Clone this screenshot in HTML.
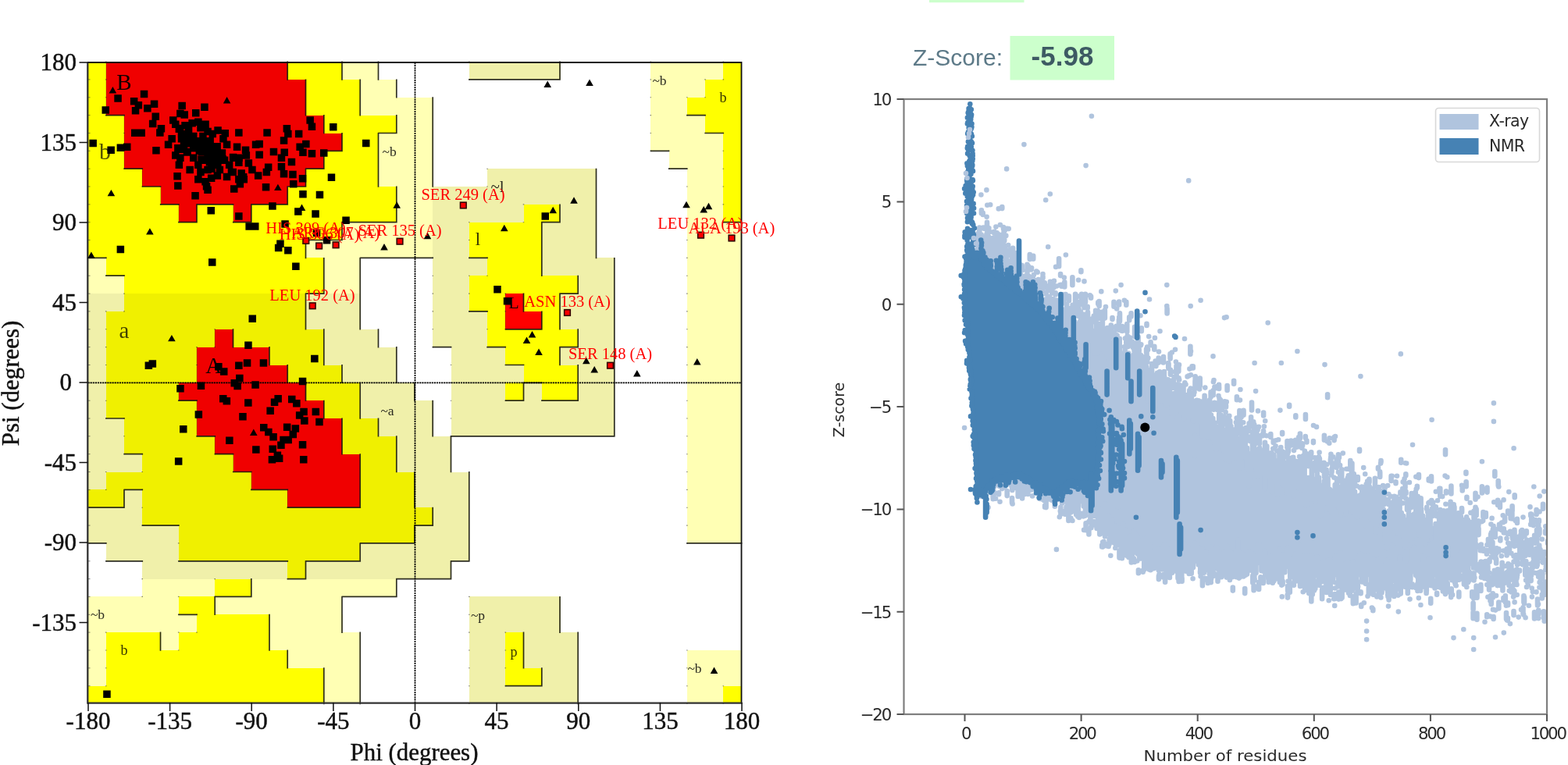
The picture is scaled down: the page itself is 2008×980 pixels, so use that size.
<!DOCTYPE html>
<html lang="en"><head><meta charset="utf-8"><title>Ramachandran plot and Z-Score</title>
<style>
html,body{margin:0;padding:0;background:#fff;}
body{width:2008px;height:980px;overflow:hidden;position:relative;font-family:"Liberation Sans",sans-serif;}
svg{position:absolute;left:0;top:0;display:block;filter:blur(0.55px);}
</style></head><body>
<svg width="2008" height="980" viewBox="0 0 2008 980">
<g id="rama">
<clipPath id="rc"><rect x="112.5" y="79.1" width="837" height="821.9"/></clipPath>
<g shape-rendering="crispEdges" clip-path="url(#rc)">
<rect x="112.5" y="79.1" width="23.8" height="23.3" fill="#ffff00"/>
<rect x="135.8" y="79.1" width="233" height="23.3" fill="#f00000"/>
<rect x="368.2" y="79.1" width="70.2" height="23.3" fill="#ffff00"/>
<rect x="438" y="79.1" width="47" height="23.3" fill="#ffffb4"/>
<rect x="600.8" y="79.1" width="116.8" height="23.3" fill="#f0f0aa"/>
<rect x="833.2" y="79.1" width="93.5" height="23.3" fill="#ffffb4"/>
<rect x="926.2" y="79.1" width="23.8" height="23.3" fill="#ffff00"/>
<rect x="112.5" y="101.9" width="23.8" height="23.3" fill="#ffff00"/>
<rect x="135.8" y="101.9" width="256.2" height="23.3" fill="#f00000"/>
<rect x="391.5" y="101.9" width="70.2" height="23.3" fill="#ffff00"/>
<rect x="461.2" y="101.9" width="47" height="23.3" fill="#ffffb4"/>
<rect x="833.2" y="101.9" width="70.2" height="23.3" fill="#ffffb4"/>
<rect x="903" y="101.9" width="47" height="23.3" fill="#ffff00"/>
<rect x="112.5" y="124.8" width="23.8" height="23.3" fill="#ffff00"/>
<rect x="135.8" y="124.8" width="256.2" height="23.3" fill="#f00000"/>
<rect x="391.5" y="124.8" width="70.2" height="23.3" fill="#ffff00"/>
<rect x="461.2" y="124.8" width="93.5" height="23.3" fill="#ffffb4"/>
<rect x="833.2" y="124.8" width="47" height="23.3" fill="#ffffb4"/>
<rect x="879.8" y="124.8" width="70.2" height="23.3" fill="#ffff00"/>
<rect x="112.5" y="147.6" width="47" height="23.3" fill="#ffff00"/>
<rect x="159" y="147.6" width="256.2" height="23.3" fill="#f00000"/>
<rect x="414.8" y="147.6" width="93.5" height="23.3" fill="#ffff00"/>
<rect x="507.8" y="147.6" width="47" height="23.3" fill="#ffffb4"/>
<rect x="833.2" y="147.6" width="70.2" height="23.3" fill="#ffffb4"/>
<rect x="903" y="147.6" width="47" height="23.3" fill="#ffff00"/>
<rect x="112.5" y="170.5" width="47" height="23.3" fill="#ffff00"/>
<rect x="159" y="170.5" width="279.5" height="23.3" fill="#f00000"/>
<rect x="438" y="170.5" width="47" height="23.3" fill="#ffff00"/>
<rect x="484.5" y="170.5" width="70.2" height="23.3" fill="#ffffb4"/>
<rect x="833.2" y="170.5" width="93.5" height="23.3" fill="#ffffb4"/>
<rect x="926.2" y="170.5" width="23.8" height="23.3" fill="#ffff00"/>
<rect x="112.5" y="193.3" width="47" height="23.3" fill="#ffff00"/>
<rect x="159" y="193.3" width="256.2" height="23.3" fill="#f00000"/>
<rect x="414.8" y="193.3" width="70.2" height="23.3" fill="#ffff00"/>
<rect x="484.5" y="193.3" width="70.2" height="23.3" fill="#ffffb4"/>
<rect x="856.5" y="193.3" width="70.2" height="23.3" fill="#ffffb4"/>
<rect x="926.2" y="193.3" width="23.8" height="23.3" fill="#ffff00"/>
<rect x="112.5" y="216.2" width="70.2" height="23.3" fill="#ffff00"/>
<rect x="182.2" y="216.2" width="209.8" height="23.3" fill="#f00000"/>
<rect x="391.5" y="216.2" width="93.5" height="23.3" fill="#ffff00"/>
<rect x="484.5" y="216.2" width="70.2" height="23.3" fill="#ffffb4"/>
<rect x="624" y="216.2" width="140" height="23.3" fill="#f0f0aa"/>
<rect x="879.8" y="216.2" width="47" height="23.3" fill="#ffffb4"/>
<rect x="926.2" y="216.2" width="23.8" height="23.3" fill="#ffff00"/>
<rect x="112.5" y="239" width="93.5" height="23.3" fill="#ffff00"/>
<rect x="205.5" y="239" width="163.2" height="23.3" fill="#f00000"/>
<rect x="368.2" y="239" width="140" height="23.3" fill="#ffff00"/>
<rect x="507.8" y="239" width="47" height="23.3" fill="#ffffb4"/>
<rect x="554.2" y="239" width="209.8" height="23.3" fill="#f0f0aa"/>
<rect x="879.8" y="239" width="47" height="23.3" fill="#ffffb4"/>
<rect x="926.2" y="239" width="23.8" height="23.3" fill="#ffff00"/>
<rect x="112.5" y="261.9" width="116.8" height="23.3" fill="#ffff00"/>
<rect x="228.8" y="261.9" width="23.8" height="23.3" fill="#f00000"/>
<rect x="252" y="261.9" width="47" height="23.3" fill="#ffff00"/>
<rect x="298.5" y="261.9" width="23.8" height="23.3" fill="#f00000"/>
<rect x="321.8" y="261.9" width="186.5" height="23.3" fill="#ffff00"/>
<rect x="507.8" y="261.9" width="47" height="23.3" fill="#ffffb4"/>
<rect x="554.2" y="261.9" width="116.8" height="23.3" fill="#f0f0aa"/>
<rect x="670.5" y="261.9" width="47" height="23.3" fill="#ffff00"/>
<rect x="717" y="261.9" width="47" height="23.3" fill="#f0f0aa"/>
<rect x="879.8" y="261.9" width="47" height="23.3" fill="#ffffb4"/>
<rect x="926.2" y="261.9" width="23.8" height="23.3" fill="#ffff00"/>
<rect x="112.5" y="284.7" width="326" height="23.3" fill="#ffff00"/>
<rect x="438" y="284.7" width="116.8" height="23.3" fill="#ffffb4"/>
<rect x="554.2" y="284.7" width="47" height="23.3" fill="#f0f0aa"/>
<rect x="600.8" y="284.7" width="93.5" height="23.3" fill="#ffff00"/>
<rect x="693.8" y="284.7" width="70.2" height="23.3" fill="#f0f0aa"/>
<rect x="879.8" y="284.7" width="70.2" height="23.3" fill="#ffffb4"/>
<rect x="112.5" y="307.5" width="279.5" height="23.3" fill="#ffff00"/>
<rect x="391.5" y="307.5" width="163.2" height="23.3" fill="#ffffb4"/>
<rect x="554.2" y="307.5" width="47" height="23.3" fill="#f0f0aa"/>
<rect x="600.8" y="307.5" width="93.5" height="23.3" fill="#ffff00"/>
<rect x="693.8" y="307.5" width="70.2" height="23.3" fill="#f0f0aa"/>
<rect x="879.8" y="307.5" width="70.2" height="23.3" fill="#ffffb4"/>
<rect x="112.5" y="330.4" width="23.8" height="23.3" fill="#ffffb4"/>
<rect x="135.8" y="330.4" width="279.5" height="23.3" fill="#ffff00"/>
<rect x="414.8" y="330.4" width="47" height="23.3" fill="#ffffb4"/>
<rect x="554.2" y="330.4" width="70.2" height="23.3" fill="#f0f0aa"/>
<rect x="624" y="330.4" width="70.2" height="23.3" fill="#ffff00"/>
<rect x="693.8" y="330.4" width="93.5" height="23.3" fill="#f0f0aa"/>
<rect x="879.8" y="330.4" width="70.2" height="23.3" fill="#ffffb4"/>
<rect x="112.5" y="353.2" width="47" height="23.3" fill="#ffffb4"/>
<rect x="159" y="353.2" width="256.2" height="23.3" fill="#ffff00"/>
<rect x="414.8" y="353.2" width="47" height="23.3" fill="#ffffb4"/>
<rect x="554.2" y="353.2" width="47" height="23.3" fill="#f0f0aa"/>
<rect x="600.8" y="353.2" width="140" height="23.3" fill="#ffff00"/>
<rect x="740.2" y="353.2" width="47" height="23.3" fill="#f0f0aa"/>
<rect x="879.8" y="353.2" width="70.2" height="23.3" fill="#ffffb4"/>
<rect x="112.5" y="376.1" width="47" height="23.3" fill="#f0f0aa"/>
<rect x="159" y="376.1" width="233" height="23.3" fill="#f0f000"/>
<rect x="391.5" y="376.1" width="70.2" height="23.3" fill="#f0f0aa"/>
<rect x="554.2" y="376.1" width="47" height="23.3" fill="#f0f0aa"/>
<rect x="600.8" y="376.1" width="47" height="23.3" fill="#ffff00"/>
<rect x="647.2" y="376.1" width="23.8" height="23.3" fill="#ff0000"/>
<rect x="670.5" y="376.1" width="47" height="23.3" fill="#ffff00"/>
<rect x="717" y="376.1" width="70.2" height="23.3" fill="#f0f0aa"/>
<rect x="879.8" y="376.1" width="70.2" height="23.3" fill="#ffffb4"/>
<rect x="112.5" y="398.9" width="23.8" height="23.3" fill="#f0f0aa"/>
<rect x="135.8" y="398.9" width="256.2" height="23.3" fill="#f0f000"/>
<rect x="391.5" y="398.9" width="70.2" height="23.3" fill="#f0f0aa"/>
<rect x="554.2" y="398.9" width="70.2" height="23.3" fill="#f0f0aa"/>
<rect x="624" y="398.9" width="23.8" height="23.3" fill="#ffff00"/>
<rect x="647.2" y="398.9" width="47" height="23.3" fill="#ff0000"/>
<rect x="693.8" y="398.9" width="23.8" height="23.3" fill="#ffff00"/>
<rect x="717" y="398.9" width="70.2" height="23.3" fill="#f0f0aa"/>
<rect x="879.8" y="398.9" width="70.2" height="23.3" fill="#ffffb4"/>
<rect x="112.5" y="421.8" width="23.8" height="23.3" fill="#f0f0aa"/>
<rect x="135.8" y="421.8" width="140" height="23.3" fill="#f0f000"/>
<rect x="275.2" y="421.8" width="23.8" height="23.3" fill="#f00000"/>
<rect x="298.5" y="421.8" width="116.8" height="23.3" fill="#f0f000"/>
<rect x="414.8" y="421.8" width="70.2" height="23.3" fill="#f0f0aa"/>
<rect x="554.2" y="421.8" width="70.2" height="23.3" fill="#f0f0aa"/>
<rect x="624" y="421.8" width="116.8" height="23.3" fill="#ffff00"/>
<rect x="740.2" y="421.8" width="47" height="23.3" fill="#f0f0aa"/>
<rect x="879.8" y="421.8" width="70.2" height="23.3" fill="#ffffb4"/>
<rect x="112.5" y="444.6" width="23.8" height="23.3" fill="#f0f0aa"/>
<rect x="135.8" y="444.6" width="116.8" height="23.3" fill="#f0f000"/>
<rect x="252" y="444.6" width="93.5" height="23.3" fill="#f00000"/>
<rect x="345" y="444.6" width="70.2" height="23.3" fill="#f0f000"/>
<rect x="414.8" y="444.6" width="93.5" height="23.3" fill="#f0f0aa"/>
<rect x="577.5" y="444.6" width="70.2" height="23.3" fill="#f0f0aa"/>
<rect x="647.2" y="444.6" width="70.2" height="23.3" fill="#ffff00"/>
<rect x="717" y="444.6" width="70.2" height="23.3" fill="#f0f0aa"/>
<rect x="879.8" y="444.6" width="70.2" height="23.3" fill="#ffffb4"/>
<rect x="112.5" y="467.5" width="23.8" height="23.3" fill="#f0f0aa"/>
<rect x="135.8" y="467.5" width="116.8" height="23.3" fill="#f0f000"/>
<rect x="252" y="467.5" width="116.8" height="23.3" fill="#f00000"/>
<rect x="368.2" y="467.5" width="70.2" height="23.3" fill="#f0f000"/>
<rect x="438" y="467.5" width="70.2" height="23.3" fill="#f0f0aa"/>
<rect x="577.5" y="467.5" width="93.5" height="23.3" fill="#f0f0aa"/>
<rect x="670.5" y="467.5" width="70.2" height="23.3" fill="#ffff00"/>
<rect x="740.2" y="467.5" width="47" height="23.3" fill="#f0f0aa"/>
<rect x="879.8" y="467.5" width="70.2" height="23.3" fill="#ffffb4"/>
<rect x="112.5" y="490.3" width="23.8" height="23.3" fill="#f0f0aa"/>
<rect x="135.8" y="490.3" width="93.5" height="23.3" fill="#f0f000"/>
<rect x="228.8" y="490.3" width="163.2" height="23.3" fill="#f00000"/>
<rect x="391.5" y="490.3" width="70.2" height="23.3" fill="#f0f000"/>
<rect x="461.2" y="490.3" width="70.2" height="23.3" fill="#f0f0aa"/>
<rect x="577.5" y="490.3" width="70.2" height="23.3" fill="#f0f0aa"/>
<rect x="647.2" y="490.3" width="23.8" height="23.3" fill="#ffff00"/>
<rect x="670.5" y="490.3" width="23.8" height="23.3" fill="#f0f0aa"/>
<rect x="693.8" y="490.3" width="47" height="23.3" fill="#ffff00"/>
<rect x="740.2" y="490.3" width="47" height="23.3" fill="#f0f0aa"/>
<rect x="879.8" y="490.3" width="70.2" height="23.3" fill="#ffffb4"/>
<rect x="112.5" y="513.2" width="23.8" height="23.3" fill="#f0f0aa"/>
<rect x="135.8" y="513.2" width="116.8" height="23.3" fill="#f0f000"/>
<rect x="252" y="513.2" width="163.2" height="23.3" fill="#f00000"/>
<rect x="414.8" y="513.2" width="47" height="23.3" fill="#f0f000"/>
<rect x="461.2" y="513.2" width="93.5" height="23.3" fill="#f0f0aa"/>
<rect x="577.5" y="513.2" width="209.8" height="23.3" fill="#f0f0aa"/>
<rect x="879.8" y="513.2" width="70.2" height="23.3" fill="#ffffb4"/>
<rect x="112.5" y="536" width="47" height="23.3" fill="#f0f0aa"/>
<rect x="159" y="536" width="93.5" height="23.3" fill="#f0f000"/>
<rect x="252" y="536" width="186.5" height="23.3" fill="#f00000"/>
<rect x="438" y="536" width="47" height="23.3" fill="#f0f000"/>
<rect x="484.5" y="536" width="70.2" height="23.3" fill="#f0f0aa"/>
<rect x="577.5" y="536" width="209.8" height="23.3" fill="#f0f0aa"/>
<rect x="879.8" y="536" width="70.2" height="23.3" fill="#ffffb4"/>
<rect x="112.5" y="558.8" width="47" height="23.3" fill="#f0f0aa"/>
<rect x="159" y="558.8" width="116.8" height="23.3" fill="#f0f000"/>
<rect x="275.2" y="558.8" width="163.2" height="23.3" fill="#f00000"/>
<rect x="438" y="558.8" width="70.2" height="23.3" fill="#f0f000"/>
<rect x="507.8" y="558.8" width="70.2" height="23.3" fill="#f0f0aa"/>
<rect x="879.8" y="558.8" width="70.2" height="23.3" fill="#ffffb4"/>
<rect x="112.5" y="581.7" width="70.2" height="23.3" fill="#f0f0aa"/>
<rect x="182.2" y="581.7" width="116.8" height="23.3" fill="#f0f000"/>
<rect x="298.5" y="581.7" width="163.2" height="23.3" fill="#f00000"/>
<rect x="461.2" y="581.7" width="47" height="23.3" fill="#f0f000"/>
<rect x="507.8" y="581.7" width="70.2" height="23.3" fill="#f0f0aa"/>
<rect x="879.8" y="581.7" width="70.2" height="23.3" fill="#ffffb4"/>
<rect x="112.5" y="604.5" width="23.8" height="23.3" fill="#f0f0aa"/>
<rect x="135.8" y="604.5" width="186.5" height="23.3" fill="#f0f000"/>
<rect x="321.8" y="604.5" width="140" height="23.3" fill="#f00000"/>
<rect x="461.2" y="604.5" width="70.2" height="23.3" fill="#f0f000"/>
<rect x="531" y="604.5" width="70.2" height="23.3" fill="#f0f0aa"/>
<rect x="879.8" y="604.5" width="70.2" height="23.3" fill="#ffffb4"/>
<rect x="112.5" y="627.4" width="47" height="23.3" fill="#f0f000"/>
<rect x="159" y="627.4" width="23.8" height="23.3" fill="#f0f0aa"/>
<rect x="182.2" y="627.4" width="186.5" height="23.3" fill="#f0f000"/>
<rect x="368.2" y="627.4" width="93.5" height="23.3" fill="#f00000"/>
<rect x="461.2" y="627.4" width="70.2" height="23.3" fill="#f0f000"/>
<rect x="531" y="627.4" width="70.2" height="23.3" fill="#f0f0aa"/>
<rect x="879.8" y="627.4" width="70.2" height="23.3" fill="#ffffb4"/>
<rect x="112.5" y="650.2" width="70.2" height="23.3" fill="#f0f0aa"/>
<rect x="182.2" y="650.2" width="372.5" height="23.3" fill="#f0f000"/>
<rect x="554.2" y="650.2" width="47" height="23.3" fill="#f0f0aa"/>
<rect x="879.8" y="650.2" width="70.2" height="23.3" fill="#ffffb4"/>
<rect x="112.5" y="673.1" width="116.8" height="23.3" fill="#f0f0aa"/>
<rect x="228.8" y="673.1" width="302.8" height="23.3" fill="#f0f000"/>
<rect x="531" y="673.1" width="70.2" height="23.3" fill="#f0f0aa"/>
<rect x="879.8" y="673.1" width="70.2" height="23.3" fill="#ffffb4"/>
<rect x="135.8" y="695.9" width="93.5" height="23.3" fill="#f0f0aa"/>
<rect x="228.8" y="695.9" width="233" height="23.3" fill="#f0f000"/>
<rect x="461.2" y="695.9" width="140" height="23.3" fill="#f0f0aa"/>
<rect x="182.2" y="718.8" width="186.5" height="23.3" fill="#f0f0aa"/>
<rect x="368.2" y="718.8" width="23.8" height="23.3" fill="#f0f000"/>
<rect x="391.5" y="718.8" width="186.5" height="23.3" fill="#f0f0aa"/>
<rect x="182.2" y="741.6" width="93.5" height="23.3" fill="#ffffb4"/>
<rect x="275.2" y="741.6" width="47" height="23.3" fill="#ffff00"/>
<rect x="321.8" y="741.6" width="186.5" height="23.3" fill="#ffffb4"/>
<rect x="112.5" y="764.4" width="116.8" height="23.3" fill="#ffffb4"/>
<rect x="228.8" y="764.4" width="47" height="23.3" fill="#ffff00"/>
<rect x="275.2" y="764.4" width="163.2" height="23.3" fill="#ffffb4"/>
<rect x="600.8" y="764.4" width="116.8" height="23.3" fill="#f0f0aa"/>
<rect x="112.5" y="787.3" width="140" height="23.3" fill="#ffffb4"/>
<rect x="252" y="787.3" width="93.5" height="23.3" fill="#ffff00"/>
<rect x="345" y="787.3" width="93.5" height="23.3" fill="#ffffb4"/>
<rect x="600.8" y="787.3" width="116.8" height="23.3" fill="#f0f0aa"/>
<rect x="112.5" y="810.1" width="23.8" height="23.3" fill="#ffffb4"/>
<rect x="135.8" y="810.1" width="70.2" height="23.3" fill="#ffff00"/>
<rect x="205.5" y="810.1" width="23.8" height="23.3" fill="#ffffb4"/>
<rect x="228.8" y="810.1" width="116.8" height="23.3" fill="#ffff00"/>
<rect x="345" y="810.1" width="116.8" height="23.3" fill="#ffffb4"/>
<rect x="600.8" y="810.1" width="47" height="23.3" fill="#f0f0aa"/>
<rect x="647.2" y="810.1" width="23.8" height="23.3" fill="#ffff00"/>
<rect x="670.5" y="810.1" width="70.2" height="23.3" fill="#f0f0aa"/>
<rect x="112.5" y="833" width="23.8" height="23.3" fill="#ffffb4"/>
<rect x="135.8" y="833" width="233" height="23.3" fill="#ffff00"/>
<rect x="368.2" y="833" width="93.5" height="23.3" fill="#ffffb4"/>
<rect x="600.8" y="833" width="47" height="23.3" fill="#f0f0aa"/>
<rect x="647.2" y="833" width="23.8" height="23.3" fill="#ffff00"/>
<rect x="670.5" y="833" width="70.2" height="23.3" fill="#f0f0aa"/>
<rect x="879.8" y="833" width="70.2" height="23.3" fill="#ffffb4"/>
<rect x="112.5" y="855.8" width="23.8" height="23.3" fill="#ffffb4"/>
<rect x="135.8" y="855.8" width="279.5" height="23.3" fill="#ffff00"/>
<rect x="414.8" y="855.8" width="47" height="23.3" fill="#ffffb4"/>
<rect x="600.8" y="855.8" width="47" height="23.3" fill="#f0f0aa"/>
<rect x="647.2" y="855.8" width="47" height="23.3" fill="#ffff00"/>
<rect x="693.8" y="855.8" width="47" height="23.3" fill="#f0f0aa"/>
<rect x="879.8" y="855.8" width="70.2" height="23.3" fill="#ffffb4"/>
<rect x="112.5" y="878.7" width="302.8" height="23.3" fill="#ffff00"/>
<rect x="414.8" y="878.7" width="47" height="23.3" fill="#ffffb4"/>
<rect x="600.8" y="878.7" width="140" height="23.3" fill="#f0f0aa"/>
<rect x="879.8" y="878.7" width="47" height="23.3" fill="#ffffb4"/>
<rect x="926.2" y="878.7" width="23.8" height="23.3" fill="#ffff00"/>
</g>
<path d="M368.2 78.6V102.7M438 78.6V102.7M484.5 78.6V102.7M600.2 101.9H624.8M623.5 101.9H648M646.8 101.9H671.3M670 101.9H694.5M717 78.6V102.7M693.2 101.9H717.8M391.5 101.4V125.6M461.2 101.4V125.6M507.8 101.4V125.6M135.2 147.6H159.8M391.5 124.3V148.4M461.2 124.3V148.4M554.2 124.3V148.4M879.2 147.6H903.8M414.8 147.1V171.3M507.8 147.1V171.3M484 170.5H508.6M554.2 147.1V171.3M902.5 170.5H927M438 170V194.1M414.2 193.3H438.8M484.5 170V194.1M554.2 170V194.1M832.8 193.3H857.3M158.5 216.2H183.1M414.8 192.8V217M391 216.2H415.6M484.5 192.8V217M554.2 192.8V217M856 216.2H880.5M181.8 239H206.3M391.5 215.7V239.8M367.8 239H392.3M484.5 215.7V239.8M554.2 215.7V239.8M763.5 215.7V239.8M205 261.9H229.6M251.5 261.9H276.1M274.8 261.9H299.3M321.2 261.9H345.8M368.2 238.5V262.7M344.5 261.9H369.1M507.8 238.5V262.7M763.5 238.5V262.7M252 261.4V285.5M228.2 284.7H252.8M321.8 261.4V285.5M298 284.7H322.6M437.5 284.7H462.1M460.8 284.7H485.3M507.8 261.4V285.5M484 284.7H508.6M717 261.4V285.5M693.2 284.7H717.8M763.5 261.4V285.5M925.8 284.7H950.3M391 307.5H415.6M438 284.2V308.3M414.2 307.5H438.8M693.8 284.2V308.3M763.5 284.2V308.3M112 330.4H136.6M391.5 307V331.2M460.8 330.4H485.3M484 330.4H508.6M507.2 330.4H531.8M530.5 330.4H555M600.2 330.4H624.8M693.8 307V331.2M763.5 307V331.2M135.2 353.2H159.8M414.8 329.9V354M461.2 329.9V354M693.8 329.9V354M786.8 329.9V354M414.8 352.7V376.9M391 376.1H415.6M461.2 352.7V376.9M740.2 352.7V376.9M716.5 376.1H741M786.8 352.7V376.9M391.5 375.6V399.7M461.2 375.6V399.7M600.2 398.9H624.8M670.5 375.6V399.7M717 375.6V399.7M786.8 375.6V399.7M391.5 398.4V422.6M461.2 398.4V422.6M646.8 421.8H671.3M693.8 398.4V422.6M670 421.8H694.5M717 398.4V422.6M786.8 398.4V422.6M298.5 421.3V445.4M414.8 421.3V445.4M484.5 421.3V445.4M553.8 444.6H578.3M623.5 444.6H648M740.2 421.3V445.4M716.5 444.6H741M786.8 421.3V445.4M345 444.1V468.3M414.8 444.1V468.3M507.8 444.1V468.3M646.8 467.5H671.3M717 444.1V468.3M786.8 444.1V468.3M368.2 467V491.1M438 467V491.1M507.8 467V491.1M670 490.3H694.5M740.2 467V491.1M786.8 467V491.1M228.2 513.2H252.8M391.5 489.8V514M461.2 489.8V514M531 489.8V514M670.5 489.8V514M646.8 513.2H671.3M693.2 513.2H717.8M740.2 489.8V514M716.5 513.2H741M786.8 489.8V514M135.2 536H159.8M414.8 512.7V536.8M461.2 512.7V536.8M554.2 512.7V536.8M786.8 512.7V536.8M251.5 558.8H276.1M438 535.5V559.6M484.5 535.5V559.6M554.2 535.5V559.6M577 558.8H601.5M600.2 558.8H624.8M623.5 558.8H648M646.8 558.8H671.3M670 558.8H694.5M693.2 558.8H717.8M716.5 558.8H741M739.8 558.8H764.3M786.8 535.5V559.6M763 558.8H787.5M158.5 581.7H183.1M274.8 581.7H299.3M438 558.3V582.5M507.8 558.3V582.5M577.5 558.3V582.5M298 604.5H322.6M461.2 581.2V605.3M507.8 581.2V605.3M577.5 581.2V605.3M158.5 627.4H183.1M321.2 627.4H345.8M344.5 627.4H369.1M461.2 604V628.2M531 604V628.2M600.8 604V628.2M112 650.2H136.6M159 626.9V651M135.2 650.2H159.8M367.8 650.2H392.3M391 650.2H415.6M414.2 650.2H438.8M461.2 626.9V651M437.5 650.2H462.1M531 626.9V651M600.8 626.9V651M181.8 673.1H206.3M205 673.1H229.6M554.2 649.7V673.9M530.5 673.1H555M600.8 649.7V673.9M112 695.9H136.6M460.8 695.9H485.3M484 695.9H508.6M531 672.6V696.7M507.2 695.9H531.8M600.8 672.6V696.7M879.2 695.9H903.8M902.5 695.9H927M925.8 695.9H950.3M135.2 718.8H159.8M158.5 718.8H183.1M228.2 718.8H252.8M251.5 718.8H276.1M274.8 718.8H299.3M298 718.8H322.6M321.2 718.8H345.8M344.5 718.8H369.1M391 718.8H415.6M414.2 718.8H438.8M461.2 695.4V719.6M437.5 718.8H462.1M600.8 695.4V719.6M577 718.8H601.5M391.5 718.3V742.4M367.8 741.6H392.3M507.2 741.6H531.8M530.5 741.6H555M577.5 718.3V742.4M553.8 741.6H578.3M274.8 764.4H299.3M321.8 741.1V765.2M298 764.4H322.6M437.5 764.4H462.1M460.8 764.4H485.3M507.8 741.1V765.2M484 764.4H508.6M228.2 787.3H252.8M275.2 763.9V788.1M438 763.9V788.1M717 763.9V788.1M345 786.8V810.9M438 786.8V810.9M717 786.8V810.9M205.5 809.6V833.8M345 809.6V833.8M461.2 809.6V833.8M670.5 809.6V833.8M740.2 809.6V833.8M368.2 832.5V856.6M461.2 832.5V856.6M670.5 832.5V856.6M740.2 832.5V856.6M414.8 855.3V879.5M461.2 855.3V879.5M646.8 878.7H671.3M693.8 855.3V879.5M670 878.7H694.5M740.2 855.3V879.5M414.8 878.2V902.3M461.2 878.2V902.3M740.2 878.2V902.3" stroke="#1a1a10" stroke-width="1.7" fill="none" opacity="0.9"/>
<path d="M135.8 79.1V101.9M135.8 101.9V124.8M135.8 124.8V147.6M159 147.6V170.5M159 170.5V193.3M159 193.3V216.2M182.2 216.2V239M205.5 239V261.9M228.8 261.9V284.7M298.5 261.9V284.7M647.2 376.1V398.9M647.2 398.9V421.8M275.2 421.8V444.6M252 444.6V467.5M252 467.5V490.3M228.8 490.3V513.2M252 513.2V536M252 536V558.8M275.2 558.8V581.7M298.5 581.7V604.5M321.8 604.5V627.4M368.2 627.4V650.2" stroke="#000" stroke-width="1" fill="none" opacity="0.2"/>
<path d="M134.9 79.1h1.6M134.9 101.9h1.6M600 79.1h1.6M600 101.9h1.6M832.5 79.1h1.6M832.5 101.9h1.6M925.5 79.1h1.6M925.5 101.9h1.6M134.9 101.9h1.6M134.9 124.8h1.6M832.5 101.9h1.6M832.5 124.8h1.6M902.2 101.9h1.6M902.2 124.8h1.6M134.9 124.8h1.6M134.9 147.6h1.6M832.5 124.8h1.6M832.5 147.6h1.6M879 124.8h1.6M879 147.6h1.6M158.2 147.6h1.6M158.2 170.5h1.6M832.5 147.6h1.6M832.5 170.5h1.6M902.2 147.6h1.6M902.2 170.5h1.6M158.2 170.5h1.6M158.2 193.3h1.6M832.5 170.5h1.6M832.5 193.3h1.6M925.5 170.5h1.6M925.5 193.3h1.6M158.2 193.3h1.6M158.2 216.2h1.6M855.7 193.3h1.6M855.7 216.2h1.6M925.5 193.3h1.6M925.5 216.2h1.6M181.4 216.2h1.6M181.4 239h1.6M623.2 216.2h1.6M623.2 239h1.6M879 216.2h1.6M879 239h1.6M925.5 216.2h1.6M925.5 239h1.6M204.7 239h1.6M204.7 261.9h1.6M879 239h1.6M879 261.9h1.6M925.5 239h1.6M925.5 261.9h1.6M227.9 261.9h1.6M227.9 284.7h1.6M297.7 261.9h1.6M297.7 284.7h1.6M669.7 261.9h1.6M669.7 284.7h1.6M879 261.9h1.6M879 284.7h1.6M925.5 261.9h1.6M925.5 284.7h1.6M600 284.7h1.6M600 307.5h1.6M879 284.7h1.6M879 307.5h1.6M600 307.5h1.6M600 330.4h1.6M879 307.5h1.6M879 330.4h1.6M134.9 330.4h1.6M134.9 353.2h1.6M553.5 330.4h1.6M553.5 353.2h1.6M623.2 330.4h1.6M623.2 353.2h1.6M879 330.4h1.6M879 353.2h1.6M158.2 353.2h1.6M158.2 376.1h1.6M553.5 353.2h1.6M553.5 376.1h1.6M600 353.2h1.6M600 376.1h1.6M879 353.2h1.6M879 376.1h1.6M158.2 376.1h1.6M158.2 398.9h1.6M553.5 376.1h1.6M553.5 398.9h1.6M600 376.1h1.6M600 398.9h1.6M646.5 376.1h1.6M646.5 398.9h1.6M879 376.1h1.6M879 398.9h1.6M134.9 398.9h1.6M134.9 421.8h1.6M553.5 398.9h1.6M553.5 421.8h1.6M623.2 398.9h1.6M623.2 421.8h1.6M646.5 398.9h1.6M646.5 421.8h1.6M879 398.9h1.6M879 421.8h1.6M134.9 421.8h1.6M134.9 444.6h1.6M274.4 421.8h1.6M274.4 444.6h1.6M553.5 421.8h1.6M553.5 444.6h1.6M623.2 421.8h1.6M623.2 444.6h1.6M879 421.8h1.6M879 444.6h1.6M134.9 444.6h1.6M134.9 467.5h1.6M251.2 444.6h1.6M251.2 467.5h1.6M576.7 444.6h1.6M576.7 467.5h1.6M646.5 444.6h1.6M646.5 467.5h1.6M879 444.6h1.6M879 467.5h1.6M134.9 467.5h1.6M134.9 490.3h1.6M251.2 467.5h1.6M251.2 490.3h1.6M576.7 467.5h1.6M576.7 490.3h1.6M669.7 467.5h1.6M669.7 490.3h1.6M879 467.5h1.6M879 490.3h1.6M134.9 490.3h1.6M134.9 513.2h1.6M227.9 490.3h1.6M227.9 513.2h1.6M576.7 490.3h1.6M576.7 513.2h1.6M646.5 490.3h1.6M646.5 513.2h1.6M693 490.3h1.6M693 513.2h1.6M879 490.3h1.6M879 513.2h1.6M134.9 513.2h1.6M134.9 536h1.6M251.2 513.2h1.6M251.2 536h1.6M576.7 513.2h1.6M576.7 536h1.6M879 513.2h1.6M879 536h1.6M158.2 536h1.6M158.2 558.8h1.6M251.2 536h1.6M251.2 558.8h1.6M576.7 536h1.6M576.7 558.8h1.6M879 536h1.6M879 558.8h1.6M158.2 558.8h1.6M158.2 581.7h1.6M274.4 558.8h1.6M274.4 581.7h1.6M879 558.8h1.6M879 581.7h1.6M181.4 581.7h1.6M181.4 604.5h1.6M297.7 581.7h1.6M297.7 604.5h1.6M879 581.7h1.6M879 604.5h1.6M134.9 604.5h1.6M134.9 627.4h1.6M320.9 604.5h1.6M320.9 627.4h1.6M879 604.5h1.6M879 627.4h1.6M181.4 627.4h1.6M181.4 650.2h1.6M367.4 627.4h1.6M367.4 650.2h1.6M879 627.4h1.6M879 650.2h1.6M181.4 650.2h1.6M181.4 673.1h1.6M879 650.2h1.6M879 673.1h1.6M227.9 673.1h1.6M227.9 695.9h1.6M879 673.1h1.6M879 695.9h1.6M134.9 695.9h1.6M134.9 718.8h1.6M227.9 695.9h1.6M227.9 718.8h1.6M181.4 718.8h1.6M181.4 741.6h1.6M367.4 718.8h1.6M367.4 741.6h1.6M181.4 741.6h1.6M181.4 764.4h1.6M274.4 741.6h1.6M274.4 764.4h1.6M227.9 764.4h1.6M227.9 787.3h1.6M600 764.4h1.6M600 787.3h1.6M251.2 787.3h1.6M251.2 810.1h1.6M600 787.3h1.6M600 810.1h1.6M134.9 810.1h1.6M134.9 833h1.6M227.9 810.1h1.6M227.9 833h1.6M600 810.1h1.6M600 833h1.6M646.5 810.1h1.6M646.5 833h1.6M134.9 833h1.6M134.9 855.8h1.6M600 833h1.6M600 855.8h1.6M646.5 833h1.6M646.5 855.8h1.6M879 833h1.6M879 855.8h1.6M134.9 855.8h1.6M134.9 878.7h1.6M600 855.8h1.6M600 878.7h1.6M646.5 855.8h1.6M646.5 878.7h1.6M879 855.8h1.6M879 878.7h1.6M600 878.7h1.6M600 901.5h1.6M879 878.7h1.6M879 901.5h1.6M925.5 878.7h1.6M925.5 901.5h1.6" stroke="#222" stroke-width="1.1" fill="none" opacity="0.55"/>
<path d="M531.5 80V900M112.5 490.3H949.5" stroke="#000" stroke-width="1.7" stroke-dasharray="2.2 0.9" fill="none"/>
<path d="M112 80H949.5V900.5" fill="none" stroke="#111" stroke-width="1.8"/>
<path d="M112.3 80V900.6H950.4" fill="none" stroke="#333" stroke-width="2.3"/>
<path d="M113 900v11M217.6 900v11M112.5 797.5h-11M322.2 900v11M112.5 695h-11M426.9 900v11M112.5 592.5h-11M531.5 900v11M112.5 490h-11M636.1 900v11M112.5 387.5h-11M740.8 900v11M112.5 285h-11M845.4 900v11M112.5 182.5h-11M950 900v11M112.5 80h-11M112.5 80h-11" stroke="#111" stroke-width="1.5" fill="none"/>
<path d="M112.5 101.9h3M112.5 124.8h3M112.5 147.6h3M112.5 170.5h3M112.5 193.3h3M112.5 216.2h3M112.5 239h3M112.5 261.9h3M112.5 284.7h3M112.5 307.5h3M112.5 330.4h3M112.5 353.2h3M112.5 376.1h3M112.5 398.9h3M112.5 421.8h3M112.5 444.6h3M112.5 467.5h3M112.5 490.3h3M112.5 513.2h3M112.5 536h3M112.5 558.8h3M112.5 581.7h3M112.5 604.5h3M112.5 627.4h3M112.5 650.2h3M112.5 673.1h3M112.5 695.9h3M112.5 718.8h3M112.5 741.6h3M112.5 764.4h3M112.5 787.3h3M112.5 810.1h3M112.5 833h3M112.5 855.8h3M112.5 878.7h3" stroke="#333" stroke-width="1" fill="none" opacity="0.6"/>
<g font-family="'Liberation Serif', serif" font-size="31" fill="#111" stroke="#111" stroke-width="0.45">
<text x="113" y="934" text-anchor="middle">-180</text>
<text x="217.6" y="934" text-anchor="middle">-135</text>
<text x="322.2" y="934" text-anchor="middle">-90</text>
<text x="426.9" y="934" text-anchor="middle">-45</text>
<text x="531.5" y="934" text-anchor="middle">0</text>
<text x="636.1" y="934" text-anchor="middle">45</text>
<text x="740.8" y="934" text-anchor="middle">90</text>
<text x="845.4" y="934" text-anchor="middle">135</text>
<text x="950" y="934" text-anchor="middle">180</text>
<text x="98" y="807.8" text-anchor="end">-135</text>
<text x="98" y="705.3" text-anchor="end">-90</text>
<text x="98" y="602.8" text-anchor="end">-45</text>
<text x="92" y="500.3" text-anchor="end">0</text>
<text x="98" y="397.8" text-anchor="end">45</text>
<text x="98" y="295.3" text-anchor="end">90</text>
<text x="98" y="192.8" text-anchor="end">135</text>
<text x="98" y="90.3" text-anchor="end">180</text>
<text x="530.5" y="974" text-anchor="middle" font-size="30.9">Phi (degrees)</text>
<text transform="translate(24 491) rotate(-90)" text-anchor="middle" font-size="30.9">Psi (degrees)</text>
</g>
</g>
<g id="rama-labels" font-family="'Liberation Serif', serif" text-anchor="middle">
<text x="159" y="115.2" font-size="29" fill="#100">B</text>
<text x="134.5" y="203.9" font-size="30" fill="#555500">b</text>
<text x="498.6" y="200" font-size="17.5" fill="#2a2a20">~b</text>
<text x="844.5" y="109" font-size="17.5" fill="#2a2a20">~b</text>
<text x="926" y="131.1" font-size="18" fill="#333300">b</text>
<text x="637" y="245.8" font-size="21" fill="#2a2a20">~l</text>
<text x="612" y="314.3" font-size="23" fill="#333300">l</text>
<text x="658" y="395.1" font-size="22" fill="#100">L</text>
<text x="159" y="433.2" font-size="29" fill="#444400">a</text>
<text x="273.7" y="477.7" font-size="29" fill="#100">A</text>
<text x="496" y="532" font-size="17.5" fill="#2a2a20">~a</text>
<text x="125" y="793" font-size="17.5" fill="#2a2a20">~b</text>
<text x="159" y="839.1" font-size="18" fill="#333300">b</text>
<text x="612" y="794" font-size="17.5" fill="#2a2a20">~p</text>
<text x="658" y="841.1" font-size="18" fill="#333300">p</text>
<text x="889.5" y="862" font-size="17.5" fill="#2a2a20">~b</text>
</g>
<path d="M146.3 121.3h9.5v9.5h-9.5zM130.5 136.2h9.5v9.5h-9.5zM179.8 115.8h9.5v9.5h-9.5zM166.9 125h9.5v9.5h-9.5zM172.6 130h9.5v9.5h-9.5zM168.8 136.9h9.5v9.5h-9.5zM184.1 133.9h9.5v9.5h-9.5zM192.8 128.5h9.5v9.5h-9.5zM194.5 144.6h9.5v9.5h-9.5zM190.9 153.8h9.5v9.5h-9.5zM201.7 159.9h9.5v9.5h-9.5zM200.1 165.2h9.5v9.5h-9.5zM168 165.5h9.5v9.5h-9.5zM176.4 165.5h9.5v9.5h-9.5zM114.4 178.7h9.5v9.5h-9.5zM137.4 187.4h9.5v9.5h-9.5zM149.6 184.4h9.5v9.5h-9.5zM158 183.6h9.5v9.5h-9.5zM195.2 187.9h9.5v9.5h-9.5zM228.4 130.8h9.5v9.5h-9.5zM226.1 140.7h9.5v9.5h-9.5zM231.5 142.3h9.5v9.5h-9.5zM217 149.2h9.5v9.5h-9.5zM246 140h9.5v9.5h-9.5zM257.2 132.6h9.5v9.5h-9.5zM301.1 165.2h9.5v9.5h-9.5zM298.8 183.6h9.5v9.5h-9.5zM274.3 162.2h9.5v9.5h-9.5zM283.5 166h9.5v9.5h-9.5zM281.2 172.9h9.5v9.5h-9.5zM222.3 221.1h9.5v9.5h-9.5zM223.1 233.3h9.5v9.5h-9.5zM238.4 212.7h9.5v9.5h-9.5zM249.1 224.9h9.5v9.5h-9.5zM258.3 228h9.5v9.5h-9.5zM265.9 223.4h9.5v9.5h-9.5zM210.8 180.5h9.5v9.5h-9.5zM215.4 172.9h9.5v9.5h-9.5zM220 154.5h9.5v9.5h-9.5zM224.6 160.6h9.5v9.5h-9.5zM227.7 166.8h9.5v9.5h-9.5zM232.3 156h9.5v9.5h-9.5zM236.8 162.2h9.5v9.5h-9.5zM241.4 153h9.5v9.5h-9.5zM243 169.8h9.5v9.5h-9.5zM249.1 151.5h9.5v9.5h-9.5zM252.2 159.1h9.5v9.5h-9.5zM258.3 154.5h9.5v9.5h-9.5zM261.3 163.7h9.5v9.5h-9.5zM255.2 169.8h9.5v9.5h-9.5zM249.1 175.9h9.5v9.5h-9.5zM239.9 179h9.5v9.5h-9.5zM230.7 182.1h9.5v9.5h-9.5zM223.1 185.1h9.5v9.5h-9.5zM220 194.3h9.5v9.5h-9.5zM226.1 197.4h9.5v9.5h-9.5zM224.6 206.5h9.5v9.5h-9.5zM235.3 189.7h9.5v9.5h-9.5zM243 185.1h9.5v9.5h-9.5zM250.6 188.2h9.5v9.5h-9.5zM258.3 182.1h9.5v9.5h-9.5zM264.4 175.9h9.5v9.5h-9.5zM267.5 185.1h9.5v9.5h-9.5zM261.3 194.3h9.5v9.5h-9.5zM255.2 200.4h9.5v9.5h-9.5zM249.1 206.5h9.5v9.5h-9.5zM243 197.4h9.5v9.5h-9.5zM270.5 194.3h9.5v9.5h-9.5zM273.6 200.4h9.5v9.5h-9.5zM267.5 206.5h9.5v9.5h-9.5zM261.3 212.7h9.5v9.5h-9.5zM279.7 191.2h9.5v9.5h-9.5zM282.8 200.4h9.5v9.5h-9.5zM288.9 206.5h9.5v9.5h-9.5zM276.6 212.7h9.5v9.5h-9.5zM295 197.4h9.5v9.5h-9.5zM301.1 203.5h9.5v9.5h-9.5zM293.5 215.7h9.5v9.5h-9.5zM301.1 224.9h9.5v9.5h-9.5zM285.8 221.8h9.5v9.5h-9.5zM273.6 220.3h9.5v9.5h-9.5zM252.2 215.7h9.5v9.5h-9.5zM302.6 231h9.5v9.5h-9.5zM295 237.2h9.5v9.5h-9.5zM259.8 234.1h9.5v9.5h-9.5zM261.3 188.2h9.5v9.5h-9.5zM236.8 172.9h9.5v9.5h-9.5zM267.5 166.8h9.5v9.5h-9.5zM285.8 180.5h9.5v9.5h-9.5zM337.3 165.2h9.5v9.5h-9.5zM362.6 159.9h9.5v9.5h-9.5zM364.1 166.8h9.5v9.5h-9.5zM358.8 175.2h9.5v9.5h-9.5zM377.9 166.8h9.5v9.5h-9.5zM392.4 149.2h9.5v9.5h-9.5zM394.7 157.6h9.5v9.5h-9.5zM422 157.9h9.5v9.5h-9.5zM464 178.7h9.5v9.5h-9.5zM327.4 179.8h9.5v9.5h-9.5zM322.8 180.5h9.5v9.5h-9.5zM387.1 179.8h9.5v9.5h-9.5zM379.4 183.6h9.5v9.5h-9.5zM383.2 190.5h9.5v9.5h-9.5zM394.7 192h9.5v9.5h-9.5zM410 191.2h9.5v9.5h-9.5zM345.7 189.7h9.5v9.5h-9.5zM359.5 190.5h9.5v9.5h-9.5zM355.7 197.4h9.5v9.5h-9.5zM327.4 193.5h9.5v9.5h-9.5zM309.8 187.4h9.5v9.5h-9.5zM310.6 194.3h9.5v9.5h-9.5zM301.4 197.4h9.5v9.5h-9.5zM313.6 204.3h9.5v9.5h-9.5zM368.7 202.7h9.5v9.5h-9.5zM355.7 208.8h9.5v9.5h-9.5zM338.9 209.6h9.5v9.5h-9.5zM318.2 212.7h9.5v9.5h-9.5zM336.6 215.7h9.5v9.5h-9.5zM325.9 220.3h9.5v9.5h-9.5zM358.8 218h9.5v9.5h-9.5zM370.2 218.8h9.5v9.5h-9.5zM382.8 224.1h9.5v9.5h-9.5zM419.7 222.6h9.5v9.5h-9.5zM304.4 217.3h9.5v9.5h-9.5zM307.5 224.9h9.5v9.5h-9.5zM371 231h9.5v9.5h-9.5zM335.8 234.9h9.5v9.5h-9.5zM261.3 238.6h9.5v9.5h-9.5zM245.3 246h9.5v9.5h-9.5zM265.5 265.1h9.5v9.5h-9.5zM301.1 272.3h9.5v9.5h-9.5zM149.6 314.7h9.5v9.5h-9.5zM267 331.2h9.5v9.5h-9.5zM383.2 244h9.5v9.5h-9.5zM404.7 244.7h9.5v9.5h-9.5zM344.2 259.3h9.5v9.5h-9.5zM377.1 266.2h9.5v9.5h-9.5zM399.3 269.2h9.5v9.5h-9.5zM314.4 285.3h9.5v9.5h-9.5zM322 285.3h9.5v9.5h-9.5zM438.3 277.6h9.5v9.5h-9.5zM360.3 282.2h9.5v9.5h-9.5zM354.2 307.5h9.5v9.5h-9.5zM351.9 312.8h9.5v9.5h-9.5zM364.1 315.9h9.5v9.5h-9.5zM374.1 336.5h9.5v9.5h-9.5zM400.8 293.7h9.5v9.5h-9.5zM413.8 302.9h9.5v9.5h-9.5zM185.6 463.6h9.5v9.5h-9.5zM190.6 461.3h9.5v9.5h-9.5zM275.1 465.1h9.5v9.5h-9.5zM282 471.2h9.5v9.5h-9.5zM301.1 463.6h9.5v9.5h-9.5zM318.5 403.6h9.5v9.5h-9.5zM313.2 437.6h9.5v9.5h-9.5zM398.1 454.7h9.5v9.5h-9.5zM311.8 460.2h9.5v9.5h-9.5zM332.7 460.2h9.5v9.5h-9.5zM302.1 479.7h9.5v9.5h-9.5zM226.2 492.9h9.5v9.5h-9.5zM252.7 489.5h9.5v9.5h-9.5zM299.4 489.8h9.5v9.5h-9.5zM322.3 488.3h9.5v9.5h-9.5zM295.5 486h9.5v9.5h-9.5zM382.8 483.7h9.5v9.5h-9.5zM281 505.9h9.5v9.5h-9.5zM285.6 509h9.5v9.5h-9.5zM313.1 511.3h9.5v9.5h-9.5zM351.4 505.9h9.5v9.5h-9.5zM346.8 510.5h9.5v9.5h-9.5zM369 506.7h9.5v9.5h-9.5zM375.1 512h9.5v9.5h-9.5zM341.4 521.5h9.5v9.5h-9.5zM249.6 526.3h9.5v9.5h-9.5zM306.2 528.9h9.5v9.5h-9.5zM384.3 522.7h9.5v9.5h-9.5zM378.9 527.3h9.5v9.5h-9.5zM385.1 534.2h9.5v9.5h-9.5zM399.6 522.7h9.5v9.5h-9.5zM404.2 535.7h9.5v9.5h-9.5zM230 544.9h9.5v9.5h-9.5zM333 543.1h9.5v9.5h-9.5zM339.1 548.8h9.5v9.5h-9.5zM345.3 554.9h9.5v9.5h-9.5zM362.9 542.6h9.5v9.5h-9.5zM373.6 544.2h9.5v9.5h-9.5zM370.5 551.8h9.5v9.5h-9.5zM364.4 558.7h9.5v9.5h-9.5zM358.3 558.7h9.5v9.5h-9.5zM355.2 565.6h9.5v9.5h-9.5zM289.1 559.5h9.5v9.5h-9.5zM323.1 571.2h9.5v9.5h-9.5zM344.5 570.6h9.5v9.5h-9.5zM382.8 565.1h9.5v9.5h-9.5zM343.7 583.9h9.5v9.5h-9.5zM352.9 582.4h9.5v9.5h-9.5zM350.6 578.6h9.5v9.5h-9.5zM384 583.9h9.5v9.5h-9.5zM223.9 586.2h9.5v9.5h-9.5zM693.5 272.2h9.5v9.5h-9.5zM632.2 366h9.5v9.5h-9.5zM644.8 381h9.5v9.5h-9.5zM132.2 884.5h9.5v9.5h-9.5zM235 169.8h9.5v9.5h-9.5zM274.1 205.3h9.5v9.5h-9.5zM230.3 173h9.5v9.5h-9.5zM273.4 183h9.5v9.5h-9.5zM225.2 186.6h9.5v9.5h-9.5zM274.2 192h9.5v9.5h-9.5zM293.8 196.8h9.5v9.5h-9.5zM253.6 189.8h9.5v9.5h-9.5zM306.9 222h9.5v9.5h-9.5zM234.7 190.2h9.5v9.5h-9.5zM260 187.9h9.5v9.5h-9.5zM250 184.7h9.5v9.5h-9.5zM266.9 184.6h9.5v9.5h-9.5zM280.4 199.3h9.5v9.5h-9.5zM225.7 159.8h9.5v9.5h-9.5zM227.8 172.9h9.5v9.5h-9.5zM227.8 170.5h9.5v9.5h-9.5zM243 176.8h9.5v9.5h-9.5zM266.2 211.6h9.5v9.5h-9.5zM255.5 178.2h9.5v9.5h-9.5zM257.6 183.4h9.5v9.5h-9.5zM253.3 199.6h9.5v9.5h-9.5zM263.7 203.1h9.5v9.5h-9.5zM291.7 215.8h9.5v9.5h-9.5zM271 196.5h9.5v9.5h-9.5zM272.7 205.7h9.5v9.5h-9.5z" fill="#000"/>
<path d="M144.4 111l4.8 8.4h-9.6zM290.6 124l4.8 8.4h-9.6zM355.9 235.7l4.8 8.4h-9.6zM142.4 242.9l4.8 8.4h-9.6zM191.9 292.2l4.8 8.4h-9.6zM116.9 322.5l4.8 8.4h-9.6zM386.5 261.6l4.8 8.4h-9.6zM492 312.1l4.8 8.4h-9.6zM219.9 428.9l4.8 8.4h-9.6zM324.8 549.6l4.8 8.4h-9.6zM701.2 103.5l4.8 8.4h-9.6zM755 101.5l4.8 8.4h-9.6zM508.2 258.3l4.8 8.4h-9.6zM547.5 297.8l4.8 8.4h-9.6zM645.8 287.8l4.8 8.4h-9.6zM708.2 264.8l4.8 8.4h-9.6zM735 252.3l4.8 8.4h-9.6zM681.5 424.1l4.8 8.4h-9.6zM674.5 431.6l4.8 8.4h-9.6zM690 446.6l4.8 8.4h-9.6zM750.8 457.8l4.8 8.4h-9.6zM761.2 469.1l4.8 8.4h-9.6zM815.8 474.1l4.8 8.4h-9.6zM892.8 459.1l4.8 8.4h-9.6zM879 257.8l4.8 8.4h-9.6zM901.2 264.1l4.8 8.4h-9.6zM907.5 259.8l4.8 8.4h-9.6zM914.5 854.5l4.8 8.4h-9.6z" fill="#000"/>
<rect x="388" y="304.6" width="7.6" height="7.6" fill="#ff0000" stroke="#300" stroke-width="1.6"/>
<rect x="404.8" y="311.2" width="7.6" height="7.6" fill="#ff0000" stroke="#300" stroke-width="1.6"/>
<rect x="426.3" y="310" width="7.6" height="7.6" fill="#ff0000" stroke="#300" stroke-width="1.6"/>
<rect x="396.4" y="388" width="7.6" height="7.6" fill="#ff0000" stroke="#300" stroke-width="1.6"/>
<rect x="589.5" y="259.2" width="7.6" height="7.6" fill="#ff0000" stroke="#300" stroke-width="1.6"/>
<rect x="508.2" y="305.4" width="7.6" height="7.6" fill="#ff0000" stroke="#300" stroke-width="1.6"/>
<rect x="722.7" y="396.7" width="7.6" height="7.6" fill="#ff0000" stroke="#300" stroke-width="1.6"/>
<rect x="777.7" y="464.4" width="7.6" height="7.6" fill="#ff0000" stroke="#300" stroke-width="1.6"/>
<rect x="893.7" y="297.4" width="7.6" height="7.6" fill="#ff0000" stroke="#300" stroke-width="1.6"/>
<rect x="933.2" y="301.2" width="7.6" height="7.6" fill="#ff0000" stroke="#300" stroke-width="1.6"/>
<g font-family="'Liberation Serif', serif" font-size="20.5" fill="#ff0000" text-anchor="middle">
<text x="593" y="256">SER 249 (A)</text>
<text x="391.5" y="299">HIS 309 (A)</text>
<text x="409" y="307">HIS 306 (A)</text>
<text x="430" y="305">ARG 307 (A)</text>
<text x="512" y="302">SER 135 (A)</text>
<text x="400" y="385">LEU 192 (A)</text>
<text x="726.5" y="392.5">ASN 133 (A)</text>
<text x="781.5" y="460">SER 148 (A)</text>
<text x="897" y="292.5">LEU 132 (A)</text>
<text x="937" y="299">ALA 193 (A)</text>
</g>
<g id="zplot">
<rect x="1190" y="0" width="121.5" height="3.2" fill="#ccffcc"/>
<rect x="1293.5" y="46" width="133.5" height="56.5" fill="#ccffcc"/>
<text x="1169" y="84" font-family="'Liberation Sans', sans-serif" font-size="30" fill="#5d7a88">Z-Score:</text>
<text x="1360.5" y="84" text-anchor="middle" font-family="'Liberation Sans', sans-serif" font-size="35" font-weight="bold" fill="#3d5a63">-5.98</text>
<clipPath id="zc"><rect x="1157.5" y="127" width="823.5" height="788"/></clipPath>
<g clip-path="url(#zc)">
<path d="M1285 339L1307 369L1341 395L1371 414L1393 426L1414 439L1446 463L1492 500L1538 532L1584 568L1630 596L1675 610L1721 633L1767 656L1813 669L1859 679L1887 692L1889 700L1887 717L1859 731L1813 735L1767 740L1721 735L1675 731L1630 726L1584 721.5L1538 719L1492 717L1469 712L1446 699L1423 680L1400 653L1380 643L1350 630L1328 620L1300 608 z" fill="#b0c4de"/>
<path d="M1252 299.4v26M1252 593.1v22M1254.3 291.6v26M1254.3 596.6v22M1256.6 300.6v26M1256.6 613.9v22M1258.9 304v26M1258.9 613.2v22M1261.2 304.9v26M1261.2 604.7v22M1263.5 299.7v26M1263.5 604.6v22M1265.8 304.9v26M1265.8 601.2v22M1268.1 311.5v26M1268.1 594.5v22M1270.4 312.4v26M1270.4 606.7v22M1272.7 310.5v26M1272.7 602.3v22M1275 318.9v26M1275 578.8v22M1277.3 340.8v26M1277.3 598.9v22M1279.6 317.7v26M1279.6 600.8v22M1281.9 321.7v26M1281.9 587.3v22M1284.2 328.9v26M1284.2 599.6v22M1286.5 332.4v26M1286.5 602.3v22M1288.8 320.4v26M1288.8 593.9v22M1291.1 335v26M1291.1 598v22M1293.4 343.4v26M1293.4 598v22M1295.7 331.4v26M1295.7 601.5v22M1298 343.8v26M1298 591.5v22M1300.3 358.5v26M1300.3 593.9v22M1302.6 351.4v26M1302.6 599.5v22M1304.9 339.2v26M1304.9 603v22M1307.2 352.2v26M1307.2 600.6v22M1309.5 354.3v26M1309.5 602.9v22M1311.8 371.1v26M1311.8 598.7v22M1314.1 373.2v26M1314.1 605v22M1316.4 364.7v26M1316.4 610.9v22M1318.7 369.1v26M1318.7 599.2v22M1321 367.8v26M1321 605.4v22M1323.3 360.5v26M1323.3 584.1v22M1325.6 374.8v26M1325.6 587.2v22M1327.9 392.5v26M1327.9 603v22M1330.2 374v26M1330.2 597.2v22M1332.5 373v26M1332.5 603.8v22M1334.8 385.6v26M1334.8 590.9v22M1337.1 397.6v26M1337.1 608.1v22M1339.4 383.6v26M1339.4 612v22M1341.7 380.7v26M1341.7 610.4v22M1344 380v26M1344 617.2v22M1346.3 392v26M1346.3 618.6v22M1348.6 387v26M1348.6 605.1v22M1350.9 397.3v26M1350.9 610.7v22M1353.2 386.5v26M1353.2 618.7v22M1355.5 398v26M1355.5 615v22M1357.8 393.2v26M1357.8 611.9v22M1360.1 403v26M1360.1 622.8v22M1362.4 396.7v26M1362.4 618.5v22M1364.7 411.9v26M1364.7 620.2v22M1367 396.6v26M1367 626v22M1369.3 404v26M1369.3 620v22M1371.6 402.1v26M1371.6 620.1v22M1373.9 391.8v26M1373.9 622.1v22M1376.2 412v26M1376.2 627.8v22M1378.5 425.3v26M1378.5 629.2v22M1380.8 414.7v26M1380.8 635.2v22M1383.1 412.1v26M1383.1 619.1v22M1385.4 416.4v26M1385.4 618.7v22M1387.7 410.6v26M1387.7 626.6v22M1390 412.2v26M1390 638.6v22M1392.3 413.7v26M1392.3 632.9v22M1394.6 413.1v26M1394.6 632.2v22M1396.9 414v26M1396.9 628.8v22M1399.2 423.8v26M1399.2 618.4v22M1401.5 426.8v26M1401.5 639v22M1403.8 414.7v26M1403.8 635.8v22M1406.1 426.6v26M1406.1 654.4v22M1408.4 416.1v26M1408.4 651.9v22M1410.7 421.1v26M1410.7 653.3v22M1413 423.1v26M1413 661.6v22M1415.3 421.8v26M1415.3 645.6v22M1417.6 431.1v26M1417.6 662.4v22M1419.9 434.4v26M1419.9 661v22M1422.2 438.5v26M1422.2 672.6v22M1424.5 439.2v26M1424.5 666.2v22M1426.8 433.2v26M1426.8 673.4v22M1429.1 440.1v26M1429.1 676.1v22M1431.4 452.2v26M1431.4 627.3v22M1433.7 433.7v26M1433.7 676.7v22M1436 452.9v26M1436 680.2v22M1438.3 455.5v26M1438.3 670.8v22M1440.6 448.1v26M1440.6 678.4v22M1442.9 454.2v26M1442.9 689.8v22M1445.2 452.6v26M1445.2 691.4v22M1447.5 462v26M1447.5 686.9v22M1449.8 456.5v26M1449.8 690.2v22M1452.1 454.1v26M1452.1 681v22M1454.4 480.5v26M1454.4 685.5v22M1456.7 455.8v26M1456.7 687.5v22M1459 470.6v26M1459 693.8v22M1461.3 455.4v26M1461.3 693.4v22M1463.6 471.5v26M1463.6 690.7v22M1465.9 470.1v26M1465.9 694v22M1468.2 470.3v26M1468.2 689.9v22M1470.5 487.9v26M1470.5 697.9v22M1472.8 474.1v26M1472.8 697.8v22M1475.1 474.5v26M1475.1 706.2v22M1477.4 480.5v26M1477.4 706.3v22M1479.7 493.9v26M1479.7 703.9v22M1482 477.9v26M1482 703v22M1484.3 481.7v26M1484.3 703.5v22M1486.6 488.7v26M1486.6 704.3v22M1488.9 487.8v26M1488.9 703v22M1491.2 482.8v26M1491.2 697.4v22M1493.5 492.4v26M1493.5 709.1v22M1495.8 486.3v26M1495.8 711.6v22M1498.1 489.4v26M1498.1 702.7v22M1500.4 504.3v26M1500.4 707.3v22M1502.7 506.9v26M1502.7 694.2v22M1505 503.3v26M1505 702.5v22M1507.3 492.5v26M1507.3 710.2v22M1509.6 499.3v26M1509.6 703.9v22M1511.9 500.7v26M1511.9 696.7v22M1514.2 502.6v26M1514.2 706.7v22M1516.5 509.9v26M1516.5 696.6v22M1518.8 506.8v26M1518.8 709.7v22M1521.1 505.8v26M1521.1 700.7v22M1523.4 504.1v26M1523.4 702.9v22M1525.7 507.7v26M1525.7 712.7v22M1528 513.6v26M1528 705v22M1530.3 558.1v26M1530.3 695.6v22M1532.6 512.9v26M1532.6 696.7v22M1534.9 513.3v26M1534.9 701.4v22M1537.2 514.4v26M1537.2 707.6v22M1539.5 532.4v26M1539.5 702.9v22M1541.8 527.8v26M1541.8 711.7v22M1544.1 531.6v26M1544.1 708v22M1546.4 533.4v26M1546.4 679.2v22M1548.7 528.8v26M1548.7 713.3v22M1551 531.5v26M1551 700.2v22M1553.3 536v26M1553.3 705.5v22M1555.6 541.6v26M1555.6 706.5v22M1557.9 549.6v26M1557.9 700.6v22M1560.2 547v26M1560.2 707.6v22M1562.5 531.3v26M1562.5 711v22M1564.8 541.3v26M1564.8 714.8v22M1567.1 550.9v26M1567.1 708.4v22M1569.4 561.9v26M1569.4 705.7v22M1571.7 538.9v26M1571.7 700.1v22M1574 564.7v26M1574 707.6v22M1576.3 553.7v26M1576.3 708.1v22M1578.6 561.8v26M1578.6 710.4v22M1580.9 550.4v26M1580.9 709.4v22M1583.2 560v26M1583.2 705.6v22M1585.5 562v26M1585.5 691.3v22M1587.8 573.8v26M1587.8 709.7v22M1590.1 560.6v26M1590.1 708.7v22M1592.4 556.3v26M1592.4 716.4v22M1594.7 552.3v26M1594.7 710.8v22M1597 573.9v26M1597 713.5v22M1599.3 596.5v26M1599.3 707.4v22M1601.6 585.9v26M1601.6 708.5v22M1603.9 560.4v26M1603.9 709.2v22M1606.2 570.4v26M1606.2 712.8v22M1608.5 576v26M1608.5 712.1v22M1610.8 584.7v26M1610.8 698.4v22M1613.1 573.9v26M1613.1 698.5v22M1615.4 580.6v26M1615.4 709.3v22M1617.7 576.7v26M1617.7 709.7v22M1620 599.9v26M1620 705.8v22M1622.3 571.6v26M1622.3 714.1v22M1624.6 582.9v26M1624.6 723.8v22M1626.9 580.6v26M1626.9 712.7v22M1629.2 604v26M1629.2 715.2v22M1631.5 582.7v26M1631.5 718.9v22M1633.8 590.4v26M1633.8 715v22M1636.1 607.7v26M1636.1 713.7v22M1638.4 581.1v26M1638.4 702.4v22M1640.7 584.9v26M1640.7 718.2v22M1643 595.4v26M1643 711v22M1645.3 592.5v26M1645.3 711.3v22M1647.6 605.6v26M1647.6 703.8v22M1649.9 586.2v26M1649.9 701.6v22M1652.2 596.9v26M1652.2 717.4v22M1654.5 594.8v26M1654.5 716.3v22M1656.8 608.9v26M1656.8 715.5v22M1659.1 595.6v26M1659.1 709.4v22M1661.4 596.8v26M1661.4 715.6v22M1663.7 599.8v26M1663.7 697.3v22M1666 601.1v26M1666 711.4v22M1668.3 601.9v26M1668.3 721v22M1670.6 600v26M1670.6 712.6v22M1672.9 621.4v26M1672.9 719.9v22M1675.2 612v26M1675.2 711.9v22M1677.5 612.9v26M1677.5 716.8v22M1679.8 600.5v26M1679.8 712.6v22M1682.1 613.8v26M1682.1 721v22M1684.4 617.1v26M1684.4 715.3v22M1686.7 599.4v26M1686.7 713.8v22M1689 611.9v26M1689 720v22M1691.3 635.6v26M1691.3 723.2v22M1693.6 628v26M1693.6 719.5v22M1695.9 616.3v26M1695.9 721.2v22M1698.2 618.6v26M1698.2 719.8v22M1700.5 612.8v26M1700.5 718.1v22M1702.8 626.7v26M1702.8 718.1v22M1705.1 629.8v26M1705.1 719.7v22M1707.4 639.9v26M1707.4 719.2v22M1709.7 621.1v26M1709.7 714.2v22M1712 613.2v26M1712 711.3v22M1714.3 624.1v26M1714.3 720.9v22M1716.6 634.1v26M1716.6 708.4v22M1718.9 616.8v26M1718.9 728.4v22M1721.2 627.5v26M1721.2 723.7v22M1723.5 632.7v26M1723.5 721.7v22M1725.8 624.5v26M1725.8 719.9v22M1728.1 619.7v26M1728.1 729.2v22M1730.4 626.5v26M1730.4 723.2v22M1732.7 630.2v26M1732.7 719.7v22M1735 629.9v26M1735 730.3v22M1737.3 636.1v26M1737.3 722.5v22M1739.6 635.4v26M1739.6 714.1v22M1741.9 634.2v26M1741.9 709.9v22M1744.2 625v26M1744.2 723.4v22M1746.5 628.5v26M1746.5 712.4v22M1748.8 646.9v26M1748.8 725.7v22M1751.1 628.5v26M1751.1 712.4v22M1753.4 633.9v26M1753.4 714.1v22M1755.7 638.8v26M1755.7 729.4v22M1758 631.8v26M1758 715.6v22M1760.3 645.7v26M1760.3 721v22M1762.6 655.6v26M1762.6 722.9v22M1764.9 644.6v26M1764.9 716.8v22M1767.2 644.3v26M1767.2 733.2v22M1769.5 633.9v26M1769.5 725.6v22M1771.8 652.8v26M1771.8 729.3v22M1774.1 668.7v26M1774.1 723.6v22M1776.4 676v26M1776.4 718.1v22M1778.7 654.6v26M1778.7 726.4v22M1781 644.3v26M1781 726.9v22M1783.3 650.2v26M1783.3 698.8v22M1785.6 641.1v26M1785.6 721.9v22M1787.9 649.5v26M1787.9 725.9v22M1790.2 657.2v26M1790.2 721.8v22M1792.5 639.1v26M1792.5 713.8v22M1794.8 657.1v26M1794.8 721.5v22M1797.1 661.1v26M1797.1 728.4v22M1799.4 674.7v26M1799.4 725.8v22M1801.7 666v26M1801.7 724.4v22M1804 654.3v26M1804 728.6v22M1806.3 660.1v26M1806.3 721.1v22M1808.6 663.8v26M1808.6 704.2v22M1810.9 658.5v26M1810.9 701.1v22M1813.2 653.1v26M1813.2 715.1v22M1815.5 651v26M1815.5 717.6v22M1817.8 659.7v26M1817.8 722.9v22M1820.1 652.7v26M1820.1 725v22M1822.4 661v26M1822.4 712.1v22M1824.7 670.6v26M1824.7 722.5v22M1827 666v26M1827 723.6v22M1829.3 655.6v26M1829.3 716.1v22M1831.6 660.2v26M1831.6 723.9v22M1833.9 696v26M1833.9 719v22M1836.2 695.6v26M1836.2 712.7v22M1838.5 671v26M1838.5 714.1v22M1840.8 686.8v26M1840.8 717.3v22M1843.1 663.8v26M1843.1 722.4v22M1845.4 662.3v26M1845.4 713.9v22M1847.7 657.1v26M1847.7 716.8v22M1850 663.8v26M1850 723.9v22M1852.3 661.3v26M1852.3 722.1v22M1854.6 676.5v26M1854.6 713.8v22M1856.9 666v26M1856.9 718.3v22M1859.2 665.6v26M1859.2 718.3v22M1861.5 655.3v26M1861.5 715.3v22M1863.8 673.2v26M1863.8 703.2v22M1866.1 665.4v26M1866.1 714.1v22M1868.4 673.1v26M1868.4 716.2v22M1870.7 674.9v26M1870.7 708.4v22M1873 676.7v26M1873 703.4v22M1875.3 683.4v26M1875.3 710.2v22M1877.6 675.1v26M1877.6 707.9v22M1879.9 674.7v26M1879.9 709.9v22M1882.2 678.7v26M1882.2 700v22M1884.5 680.4v26M1884.5 697.3v22M1886.8 688.3v26M1886.8 705.5v22M1889.1 672.8v26M1889.1 705.8v22M1485.7 478.2v0M1617 556.2v2M1256.4 249.5v0M1619.9 568.6v2M1468.1 447.4v4M1562.9 512.3v0M1782.7 609.7v0M1655.5 586.1v4M1357 385v6M1682 545v0M1503.6 482.9v0M1533.1 514.3v0M1350.6 366.7v0M1843.4 625.8v0M1478.9 432.9v0M1731.4 593.5v10M1814.4 649.4v2M1509.6 484.4v2M1543.6 518.6v6M1348.1 361v6M1653.3 564.5v6M1758.5 626.8v4M1725 620.8v0M1786.8 644.5v4M1764.9 598.8v2M1606.3 544v6M1567.9 515.2v4M1620.2 539.3v0M1299 330.9v0M1620 566.7v6M1475.1 466.1v10M1651.1 587.4v2M1504.5 476.3v0M1724.3 600.8v0M1749.7 620.2v0M1733.8 607.3v10M1530.5 488.1v10M1309.2 346.2v0M1545.3 520.2v0M1447.1 432.5v4M1704.3 585.2v6M1359.4 364.7v2M1405.9 398.2v6M1318.8 326.1v6M1592.2 541.3v0M1695.9 557.7v6M1654.4 587.6v0M1708.6 560.1v4M1772 636.5v10M1536.7 484.6v10M1870.3 661.1v4M1526.3 504.1v0M1856.4 660.6v2M1815 636.4v10M1833.3 641v4M1569.6 528v0M1733 620.5v6M1561.2 530.2v10M1887.5 654.7v10M1817.1 644.3v4M1618.9 546.2v0M1807.7 632.1v4M1781.6 609.9v6M1303.8 346.6v2M1800.3 638.4v0M1858.9 654.5v4M1752.3 628.2v0M1816.7 651.6v6M1480.4 467.1v2M1877.4 669.6v0M1882.5 668.8v0M1838.8 649.3v2M1656.2 585.8v2M1573.8 537.7v0M1478.3 443.7v4M1384 399.4v10M1361.8 384.2v4M1462.5 462.1v0M1290.5 326.1v0M1565.2 523.1v2M1835.1 643.6v4M1403.1 397.9v4M1380.1 391.2v2M1633.7 564.2v0M1555.4 495.9v0M1432.3 416.6v6M1380.4 402.4v0M1705.1 608.5v0M1450.6 438.8v6M1827.2 649.9v2M1321.1 343.3v0M1586.2 551.1v0M1673.4 564.5v2M1641.5 578v0M1412 407.3v0M1600 552.2v0M1570 519.6v2M1650 574.6v4M1816.9 649.1v0M1817.5 651.3v0M1500.8 451.5v0M1592.5 525.8v6M1524.9 480.3v0M1661.7 568.5v4M1443.9 432.7v0M1830.7 643.2v0M1858.4 622.5v10M1640 574.7v0M1422.8 416.6v0M1388.1 402.8v4M1589.6 548.7v0M1274.1 305.3v0M1861.7 646.3v4M1388.5 360.4v0M1470.3 458.5v0M1749.3 625.4v6M1731.9 610.2v10M1285 312.4v10M1351.7 375.4v2M1510 467.4v0M1543.3 496.6v0M1838.8 629.7v0M1567.9 533.6v6M1407.3 415.1v2M1388.8 385.2v0M1304.2 331.6v2M1716.9 614.5v2M1536.1 498.5v0M1679.2 579.2v2M1812.3 643.1v6M1505.9 463.5v0M1813.7 626.5v0M1829.7 613.5v2M1373.4 355.2v10M1630.7 564.9v2M1588.2 527.1v0M1380.3 400.8v4M1387.2 408.7v0M1778.3 633.1v0M1777.2 622v0M1847.3 658.3v0M1741.7 624.7v0M1771.6 629.1v10M1839.9 657.3v4M1568.6 537.5v4M1370.4 395v0M1852 629.4v2M1368.9 379.3v6M1702.6 561.4v0M1321.9 354.9v0M1407.6 386.1v6M1385.5 403.9v0M1265.4 297.6v0M1342.3 366.3v6M1377.4 398.9v0M1808.9 639.6v0M1872.7 622.4v6M1677 588.9v0M1527.8 469.4v2M1524.4 443.7v10M1276.6 298.2v10M1315.7 341v2M1888.7 661v10M1818.5 653.9v0M1876.8 666.1v6M1598.4 562v0M1644 579.7v0M1549.8 516.5v6M1706.4 593.6v4M1792.7 641.8v0M1576.4 546v0M1483.7 458.6v6M1267.8 297.1v0M1765.8 624v0M1596.3 552.1v2M1298.4 338v0M1349.6 365.8v0M1801.1 593.5v0M1377.1 376.8v10M1346.5 365.7v4M1679.6 586.1v0M1318.4 358.5v6M1773.7 624.8v0M1595.9 555.6v6M1549.2 512.3v2M1285 291.1v2M1794.2 588.8v4M1786 639.9v10M1505 447.7v0M1542.6 506.8v10M1872 621.7v0M1872 651v4M1279.8 314.5v0M1301.3 324.2v4M1523.3 500.1v6M1605.2 540.3v6M1261 292.6v0M1278.8 267.4v0M1568.3 514.2v4M1317.1 353.5v0M1870.9 663.7v10M1443.3 415v10M1526.6 469.4v2M1764.8 628.2v0M1485.1 476.4v6M1264 284.9v6M1319.8 356.6v6M1752.1 616.7v10M1433.2 406.5v0M1764 633.4v10M1426.5 386.7v6M1704.4 581.8v0M1298.8 337.8v4M1442.3 386.7v4M1403.2 411.4v2M1813.3 650.8v0M1320.7 345.4v0M1410.3 373.4v0M1858.9 660.5v0M1348.4 383.1v0M1397.4 408.8v0M1717.1 606.4v2M1563.6 531.8v0M1585.8 550.1v0M1499.5 487.9v0M1496.5 466v6M1307.3 340.2v4M1473.6 438.3v4M1583.9 542.9v10M1461.8 420.2v4M1460.7 442.4v0M1575.4 544.3v0M1665 590.1v4M1820.2 652.1v0M1453.1 418.9v10M1294.2 319.5v4M1381.5 395.2v0M1664.1 585.1v0M1853.6 654.2v10M1397.1 379.8v2M1536 496.8v0M1699.9 565.5v0M1726.8 609.3v0M1754.7 634.5v0M1298.9 325.6v6M1389.9 376.8v4M1346.5 383.6v0M1843.4 659.7v0M1554.2 518.8v6M1468.5 449.3v10M1281.7 301.6v10M1659 572.5v0M1328.7 348.7v0M1429.5 429.1v4M1622 558.3v0M1583.7 535.5v0M1574.3 532.8v0M1561 492.7v4M1609.1 549.2v6M1726.1 600.8v0M1458.1 450.6v4M1670.9 577.7v2M1672.9 586.7v0M1644.1 585.9v0M1316.2 356.5v10M1767.1 604.3v2M1352.2 384.6v0M1758.7 636.6v0M1358.6 378.6v0M1422.7 425.1v0M1327.9 359.1v6M1411.9 411.5v10M1463.9 457.4v0M1787.4 644.1v0M1406.8 408.1v0M1330.4 367.3v0M1780.9 635.8v0M1385.8 390.1v0M1605 552.8v10M1448.6 401.4v4M1689.7 587.3v6M1256.9 269.3v4M1509.3 469.8v6M1859.7 662.9v2M1799.5 619v6M1416 393v0M1289.4 323.9v0M1877.6 617.3v6M1586.3 555.4v0M1455.4 439.4v0M1361.3 377.4v0M1751.1 616.5v0M1385.1 376.9v10M1393 399.9v10M1798.6 613.3v0M1834.2 651.2v10M1422.8 425.7v6M1510.2 486.6v0M1271.4 305v2M1423 426.9v4M1769.3 640.4v4M1604.4 564.1v0M1588.5 530.5v0M1285.6 293.9v10M1315.5 338.8v10M1671.8 559v2M1470.1 448v0M1816.9 608.1v4M1400.8 404.7v6M1612 546.9v0M1722.3 616.4v6M1698.6 601.7v6M1785.6 635.9v6M1772.6 638.1v4M1457.6 431.6v10M1469.1 444.6v0M1618 552.1v4M1713.9 582.4v10M1714.9 584.3v2M1601.9 539.2v0M1833 610.4v6M1312.2 353.9v10M1502.8 486.7v10M1322.8 356v0M1811.3 644.4v2M1545 517.6v6M1787.5 617.3v2M1702.3 567.8v0M1428.2 431.2v0M1457.8 449.1v6M1560.5 507v0M1857.5 658v0M1435.8 421.6v2M1299.6 335.4v4M1354.9 385.1v0M1815.5 644.1v0M1663.2 560v0M1681.9 565.1v2M1733.6 607v4M1287.1 318.4v4M1583.9 508.3v4M1812.7 630.2v6M1758.1 625.9v4M1855.9 660v4M1390 377v10M1841 641.2v0M1297.1 317.9v10M1356.1 331.2v10M1588.4 499v0M1303.4 336v10M1687.1 590.3v10M1388.5 384.3v10M1416.8 421.9v10M1427 425.9v0M1273.3 296.8v2M1275.7 308.2v6M1788 636.6v0M1384.4 346.3v2M1770.4 630.6v2M1461.3 441.2v0M1889.7 653.9v0M1678.8 597.4v0M1864.9 658.8v4M1683.7 586.3v0M1796.5 626.5v10M1657 577.1v0M1760.9 612.8v10M1333.8 372.2v0M1554.5 487v0M1337.6 362.2v6M1555.4 515.7v4M1457.1 444.7v10M1330.5 369.3v6M1363.3 361.4v6M1718.1 613.1v4M1305.2 337.5v6M1639.1 576.3v0M1877.4 667.5v2M1777.1 642v2M1567.1 536.6v2M1302.5 341.1v4M1380.8 379.6v0M1819.6 638.4v10M1633.6 571.3v0M1858.8 658v0M1440.9 433.5v0M1674.5 581.6v0M1695.5 592.9v4M1284.9 299.9v0M1439.9 444.2v0M1864.5 665v4M1853.3 611.2v0M1748.2 607.3v0M1844.4 653v0M1804.9 618v0M1627.3 556v4M1268.2 262.2v0M1561.5 510.6v0M1789 609.8v0M1490.9 476v4M1515.5 493.7v10M1757 629.3v10M1561.5 513.7v10M1485.5 424.2v0M1603 515.5v10M1554.9 520.3v0M1573.8 533.2v0M1743.3 625v0M1828.2 654.1v2M1668.1 570.4v0M1467.6 463.7v2M1660.1 591.1v0M1594.4 556.9v6M1718.2 601.2v10M1813.4 653.8v0M1434 401.4v10M1675.8 592.5v0M1698.9 604.8v2M1699.2 595v0M1373.6 390.8v10M1258.7 272.9v2M1768.1 593.6v0M1678.3 587.4v0M1766.5 638.7v0M1802.1 640.9v0M1879.4 673.8v0M1489.8 464.5v0M1800.5 629.9v2M1570.3 538.1v6M1716.1 596v0M1522.4 481.4v0M1595.4 548.1v0M1768 628.6v0M1648.4 573v0M1802 649v4M1796.8 644.5v0M1575.2 539.1v10M1649.1 574.8v6M1695.6 598.6v6M1735 612.1v6M1406.3 387.2v2M1443.1 432.1v4M1357.5 365v0M1379.1 394.8v6M1601.2 559.3v6M1644.4 583v0M1807 640.3v10M1737.7 622.5v0M1705.5 600.7v4M1323.9 352v0M1667.3 568v6M1800.3 607.3v2M1259.2 291.5v0M1364.6 377v4M1446.2 406.2v4M1295.2 336.4v4M1758.8 635.3v2M1294.5 334.3v0M1582.9 541.1v0M1793.4 630.4v2M1602.1 534.2v6M1753.6 623.1v6M1608.5 559.8v0M1514.5 498v0M1456.7 452.2v0M1763.1 633v0M1783.8 644.4v0M1815.6 635.7v0M1669.1 583.8v6M1858.8 652.6v2M1883.4 656.9v0M1703.9 588.3v4M1523.4 472.6v0M1675.5 595.1v2M1802.5 646.4v4M1609.2 563.3v2M1423.3 418v6M1816.9 639.8v0M1378.8 386v0M1363.3 380.9v2M1659.1 563.8v6M1548.1 522.8v4M1525 449.9v0M1392.7 392.8v2M1857.6 642.9v10M1453.3 431.3v0M1609.5 567.4v0M1570.3 542.6v0M1557.7 495.3v2M1744.6 627.2v6M1883.6 672.4v2M1640.1 582.5v2M1430.6 429.8v2M1378.4 396.7v0M1688.8 601.8v0M1669.7 590.4v6M1339.8 374.7v2M1829.1 656.4v2M1421.4 430.2v0M1875.5 666.7v0M1730.8 603.4v4M1562 514.7v10M1730.5 599v0M1689.9 587.8v4M1686 546.9v0M1681.5 594.3v0M1263.6 277.8v0M1604.2 556.6v0M1691 593.2v4M1762.2 631.1v6M1444.2 440.2v4M1293.8 326.9v0M1270.5 305.7v2M1738.8 611v4M1404.7 415.8v4M1329.6 369.2v0M1642.9 583.7v2M1696 600.9v10M1688.9 585.3v4M1506.6 477v6M1451.1 442.5v0M1693.7 603v0M1612.8 560.1v4M1876.4 666.8v4M1381.1 358.7v0M1332.1 360.8v0M1453 448.8v2M1771.1 622v0M1618.1 528.5v4M1564.5 537v0M1524.7 497.6v0M1588.5 540.1v10M1430.2 395.5v0M1559.1 520.9v4M1642.8 578.9v10M1283.3 265.1v2M1334.9 367v6M1858.5 659.5v2M1335.5 354.2v2M1573.5 540.1v0M1802.3 648.2v2M1510.8 493.3v0M1743.9 623.6v2M1729.7 612.3v2M1506.5 468.7v10M1711.7 589v10M1260.7 292.9v0M1628.7 580.2v0M1814.8 622.7v2M1286.2 306.4v2M1528.7 505.4v0M1721.3 615.5v0M1529.5 502.5v0M1468.5 414.9v2M1829.4 644.3v0M1358.1 351.1v2M1362.7 379.2v0M1349.4 368.6v0M1367.1 396.8v0M1858.1 659.9v0M1382.6 386.9v2M1771.7 641.1v0M1303.9 348.2v0M1630.3 574.7v0M1796.7 617.4v0M1451.3 445.6v0M1372.2 398.4v0M1867.7 657.4v10M1606.6 557v4M1425.2 425.3v0M1613 558.3v10M1649.4 570.4v2M1323.2 327.8v4M1765.2 632.4v2M1479.6 462.6v4M1414.9 397.6v10M1684.2 592.4v10M1329.1 360.6v6M1400.7 407.4v2M1399 408.8v0M1308.7 340.1v6M1366.1 389.3v6M1729.3 590v6M1732.2 622.3v2M1572.2 542v2M1301.3 325.5v0M1651.2 587.3v0M1713.9 604.7v0M1773 623.2v10M1518.5 492.5v0M1458.7 447.7v2M1272.7 297v0M1335.5 351.1v0M1650.3 572.5v0M1724.3 620.6v0M1347.4 365.4v10M1754 628.4v0M1570.7 514.9v0M1878.1 662.4v0M1329.7 358v0M1520.6 482.4v0M1865.4 662.2v6M1300.3 326.5v10M1678.8 593v2M1331.6 365.2v10M1344.9 360.9v4M1773.6 632v0M1610.6 550.8v0M1542.7 520.8v0M1452.5 449.2v0M1545.6 518.7v0M1353.2 366.5v0M1460.2 454.6v0M1344.2 369.3v0M1770 628.7v10M1844 656.6v0M1844.3 625.7v10M1648.5 565v6M1753.5 613.8v4M1587.4 526.1v6M1637.1 563.2v0M1667.8 590.4v6M1469.2 459.8v4M1688.8 588.1v6M1850.6 609.5v0M1879.8 666.1v2M1580.1 487.8v4M1862.4 649.6v4M1769.6 637.9v0M1458.3 456.7v0M1494.6 395.5v6M1712.6 613.8v0M1498.6 453.4v6M1851 576.2v6M1967.6 653v6M1651.1 518.8v2M1588 512.6v0M1778 641.4v2M1659.3 532.4v2M1484 450.6v0M1920 671.7v6M1428.8 372.6v0M1588.5 545.7v4M1663.9 565.8v0M1609.3 549.1v6M1490 457.1v6M1677.6 585.4v0M1498.9 473.7v6M1496.2 465v6M1936.6 648.4v6M1913.2 643.2v0M1708.4 611.7v0M1553.6 500.2v6M1424.5 407.1v2M1918.1 640.9v6M1611 526.4v0M1429.6 417.9v2M1741 575.9v2M1700.1 505.3v4M1809.7 636v2M1977.3 629.6v0M1746.1 625.7v0M1639.4 525.6v0M1443.8 430.4v0M1848.6 654.3v0M1608.1 501.1v0M1671.9 531v6M1893.3 667.2v6M1966.1 666.1v2M1571.6 494v6M1460.5 404.3v0M1813.3 610.7v0M1882.7 644v0M1589.1 531.4v0M1770.7 630.7v6M1725.9 612.3v6M1851.4 645.7v0M1799.9 593.2v0M1691.9 594.4v6M1920.9 643.9v6M1561.1 495.9v2M1598.5 560.1v4M1664.9 555.6v6M1806.6 639.5v0M1471.2 431.1v0M1449.8 437.6v2M1455.2 452.5v6M1932.3 630.1v0M1599.7 542.2v6M1517.3 490.3v0M1858.2 659.7v6M1640.3 573v0M1768.5 590v2M1778.1 639.9v6M1976 645.7v6M1442.3 437.7v2M1658.8 573.4v0M1746.2 599.1v0M1872.9 665.7v6M1870.8 661.2v4M1442.5 439.8v2M1904.5 624.6v6M1461.4 459.4v0M1671.6 591.7v0M1707.2 585.2v0M1550.6 502.4v6M1402.2 404.9v0M1899.2 667.1v0M1872.1 652v4M1796.2 626v0M1878.4 636.8v2M1642.1 554.1v2M1925.6 640.4v0M1719.8 580.6v0M1890.1 672.8v4M1433.1 386.5v4M1689.6 579.5v0M1914.3 604v6M1589.6 532.6v2M1874.4 667.8v0M1437.2 418v6M1509.2 474v0M1847.2 636.1v0M1710 559.1v0M1635.3 577.5v0M1877.4 604.8v2M1641.1 584.3v0M1940.8 667.1v0M1744 625.7v0M1432.9 409.9v6M1970.9 666.2v2M1784.8 642.6v6M1899.4 656.1v6M1530.7 482.3v6M1517 434v0M1411 399.7v6M1424.6 430v0M1590.9 554v6M1960.2 658.6v2M1918.7 616.1v6M1809 569.7v0M1851.4 655.6v6M1767.2 605v6M1716 607.7v0M1860.7 657.1v6M1418.2 420.1v0M1979.3 674.3v0M1553.9 489.3v0M1921.4 675.6v0M1553.5 456.4v0M1288.3 301.9v0M1257.6 302.9v0M1291.2 314.1v0M1280.9 288.1v0M1256.5 324.6v0M1258.6 303.2v0M1292 336.1v0M1258.3 292.2v0M1281.1 336.3v0M1266 303.2v0M1262.1 343.8v0M1270.2 331.8v0M1270.3 307v0M1282.8 316.8v0M1279.1 343.4v0M1278.5 319v0M1281.3 334.8v0M1273 310.3v0M1264.2 340.7v0M1264.1 294.9v0M1265.4 310.8v0M1263.6 293.2v0M1284.8 327.3v0M1275.9 344.4v0M1280 318.6v0M1269.4 325.2v0M1289.6 292.7v0M1291.7 293.1v0M1284.9 302.2v0M1278.9 300.4v0M1271.8 321.1v0M1275.5 308.1v0M1275.4 290.6v0M1256.1 304.6v0M1264.3 339v0M1268.6 343.1v0M1263.8 327.8v0M1258.7 306.1v0M1263.7 290.9v0M1288.9 330.4v0M1858.7 754.2v6M1380.3 659.8v2M1513.3 732.7v6M1566 731.6v2M1640.2 740.3v0M1587.9 730.3v9M1501.1 729.8v4M1363.8 654.8v4M1617.7 743v4M1575.5 732.3v2M1765.4 748.2v9M1330.8 636.9v0M1683.9 747.6v2M1699.5 748v0M1289.7 629.1v6M1675.3 745v9M1448.9 714.4v0M1757.4 755v0M1436.9 713.2v2M1337.3 635.3v6M1539.9 741.2v9M1465.2 720.7v9M1308.6 634.5v0M1649.6 744.6v0M1869.7 737.7v4M1851.2 744.5v9M1826.8 748v9M1840.1 759.7v2M1704 745.6v0M1815.1 749.9v0M1788.4 745.4v9M1537.6 738.2v0M1657.8 739.5v6M1334.7 633.6v6M1550.7 727.5v9M1759.6 747.1v9M1378.2 653.2v6M1596.3 735.6v0M1826.6 754v6M1546.8 741v6M1551.1 729.2v9M1490.1 739.7v0M1564.1 739.2v0M1435.1 704.4v0M1582.6 733.8v0M1479.8 727.2v0M1604.3 737.5v9M1495.3 735.7v0M1457.9 730.3v4M1402.2 672v0M1369.8 647.6v6M1357.8 654.8v0M1839.1 751.9v0M1397.3 674.3v2M1574.9 736.9v6M1365.5 649.5v6M1837.5 744.5v9M1471.6 723.4v6M1559.5 735.8v9M1623.9 734.6v6M1404.6 668v9M1640.3 740.3v0M1725.3 745.4v9M1863.3 741.4v0M1853.4 747v0M1358.4 649.8v9M1605.6 750.3v6M1448.8 711.4v9M1488.7 727.4v2M1815.4 747.9v9M1844.7 752.7v0M1301 624.4v0M1679.3 764.5v6M1356.8 662.3v0M1473.4 728.2v2M1612.8 745.7v0M1311.7 629.3v4M1670.8 744v9M1606.4 734.4v4M1737.4 759.7v0M1451.8 715.2v0M1776.5 749.4v6M1373.4 667v0M1753.6 749.1v9M1631.3 738.2v6M1400.4 668.1v4M1732.8 764.2v9M1387.2 657.5v4M1763.3 762.5v2M1887.5 734.4v9M1676.2 751.1v9M1802.8 751v9M1777.1 762v0M1569.4 734.7v0M1271.7 633.2v6M1309.1 636.4v2M1634.9 741.2v0M1373.2 654.1v0M1695.4 752.5v0M1612.1 745.9v9M1305.2 624.8v0M1677.9 748.7v9M1416.9 697.2v2M1437.3 705.9v0M1752.8 752.1v9M1275.1 638.7v0M1799.3 745.8v6M1482.6 727.8v0M1561.6 732.4v0M1606.6 741.6v2M1709.6 753.5v0M1492.1 739.8v6M1620.1 737.4v0M1868.3 758.5v6M1408.3 680.4v4M1594.2 754.1v6M1570.5 732.7v2M1679.6 740.7v9M1350.8 648.8v0M1303.7 627v9M1450.3 714.8v2M1765.8 751.1v4M1640.4 744.1v0M1595.4 734.6v2M1371.2 656.4v0M1394.5 668.1v0M1301.2 616.1v9M1422.3 711.8v0M1499.3 732.1v0M1863.7 739.5v9M1778.6 762.6v6M1714.5 749.7v0M1659.3 740.9v2M1638.9 741.9v4M1719 751.1v0M1871.3 738.6v2M1790.4 750.4v2M1649.1 750.8v6M1594.3 736.9v0M1703.9 760v2M1810.1 750.6v0M1684.3 744.9v9M1828 746.5v4M1689.5 745.7v4M1627.9 741.5v0M1513.6 740.7v4M1728 749.8v0M1509.6 726.6v9M1522.7 728.9v6M1769.5 755.5v4M1280.5 642.7v0M1542.2 740.5v2M1714.3 758.6v9M1553.6 732v6M1419.6 700v0M1296.3 619v9M1409.3 683.1v0M1527.6 741.2v0M1415 678.3v9M1701.7 769.2v0M1525.8 733.4v0M1413.5 693.7v2M1265.6 650.1v0M1483.8 728.4v2M1799.2 751.3v0M1296 638.1v6M1624.4 737.8v4M1465.7 718.2v9M1296.6 645.4v0M1331 635.2v0M1586.7 731.6v9M1713.2 751.4v0M1832.2 766.7v6M1584.2 739.2v0M1639.4 745.6v0M1509.5 740.3v0M1614.4 739.3v2M1737.4 749.7v0M1273.3 630.9v2M1331.5 632.9v6M1508.5 734.8v6M1438.6 705.9v2M1510.3 730.6v2M1605.3 731.2v9M1381.9 656.9v6M1768.4 765.4v0M1637.3 740.8v0M1853.7 747.3v6M1578.1 730.3v9M1322.1 635.4v0M1537 731.8v2M1390.6 670.3v9M1463.7 730.8v2M1578.8 752.6v4M1629.8 746.7v0M1279.1 631.2v2M1468.5 726v0M1656.9 749.7v0M1756.1 756.4v0M1412.2 694.6v6M1428.3 702v0M1818.9 746.9v0M1452.8 719.9v0M1374.7 653.7v0M1308.4 620.6v9M1404.7 671.4v0M1698.5 747.6v4M1735.1 746.7v6M1484.5 735.9v0M1283.2 626.1v0M1456.3 718.5v0M1490.2 736.1v0M1433.5 705.6v9M1490.6 738.5v0M1411.2 698.5v2M1849.4 739.6v9M1350 641.3v2M1497.9 733.9v6M1420.6 690.9v6M1814.5 749.8v0M1339.6 641.1v9M1709.4 761.1v6M1717.4 767.1v0M1550.8 746.1v0M1368.4 658v9M1555.9 735.2v0M1509.6 738.9v6M1757.8 758v0M1399.8 670.6v2M1396.4 660.2v9M1727.4 755.3v2M1825.8 749.9v0M1388.1 678.9v0M1782.7 750.8v6M1272.1 626.8v2M1540 733v0M1371.4 663.7v0M1702.2 746.1v9M1837.2 748.7v2M1732.3 748.4v0M1785.3 758v6M1551.1 739.7v2M1400.6 670.4v2M1394.4 678.4v6M1372.5 649.4v6M1445.5 710v4M1298.1 621v4M1793.7 754.6v6M1878.4 741.7v0M1623.5 738.2v0M1483.9 738.1v4M1650.7 758v0M1702.3 749.5v0M1755.4 757.8v2M1583.4 735.3v4M1570.7 730.6v9M1841.7 744.9v6M1338.1 647.8v2M1674.9 747.4v0M1868.4 736v6M1709.2 775.9v0M1929.9 733.9v0M1816.2 742.9v12M1825.2 744.4v6M1867.9 740.8v0M1975.5 735.2v0M1751.5 763.7v0M1758.6 749.7v12M1979.2 745.6v0M1898.9 731.5v0M1693.9 744.9v0M1641.8 764.4v0M1766.1 757.7v0M1686 746v0M1982.6 734.2v0M1723 753.5v2M1863.1 746.2v0M1936.4 730.4v12M1709.9 746.2v0M1883.5 734.2v0M1962.8 758.1v0M1665 738.9v12M1786.9 758v0M1971.4 752.5v0M1919 740.9v0M1935.5 756.5v2M1689.4 747.3v0M1801.1 752.3v0M1969.8 734.2v0M1878.3 752v0M1819.1 750.7v6M1816.8 766.1v0M1708.2 767.2v0M1859.5 743.2v0M1921.9 738.3v12M1900 736.8v2M1779.2 757.3v6M1808.6 748.2v4M1728.9 757v6M1758 753.2v0M1664 739.2v6M1736.6 760.4v12M1850.9 759.1v2M1703.7 744.4v12M1693.1 755.2v12M1756.9 778.6v0M1956.3 734.2v12M1985 729.5v0M1641.3 737.6v12M1905.4 725.3v12M1761.1 749.4v4M1680.8 749.5v12M1932.4 729.4v6M1766.4 758.1v2M1935.9 750.9v4M1641.5 737.9v4M1667.1 750.5v0M1728.3 750.5v6M1674.2 756.5v0M1731.4 756.8v0M1946.1 731.5v0M1942.4 738.7v0M1700.9 749.3v0M1651.8 746.7v12M1970.1 738.8v0M1733.2 749.9v4M1943.1 730.4v6M1914.8 733.7v2M1649 761.6v4M1897 733.9v0M1820.4 752.1v0M1892.4 730.5v0M1973.2 737.9v0M1742.6 758.2v2M1650.9 744.3v0M1668.7 758.3v0M1737.6 752.9v0M1880 734v12M1847.8 751.5v6M1912.6 735.5v12M1642.6 744.5v4M1961.3 728.6v2M1881.2 732v12M1695.4 754.5v0M1782.3 762.3v0M1973 732.4v2M1868.4 742.8v0M1754.8 754.8v0M1901.1 728.9v12M1778 776.6v0M1856 758.6v0M1723.8 747.7v4M1916 733v6M1738.7 745.2v12M1728.3 748.8v12M1840.6 739.8v12M1777.2 752.7v6M1858.2 759.1v6M1926.5 735v12M1928.6 739.3v4M1825.4 740.3v12M1874.9 736.6v12M1682.9 754.5v2M1792.5 748.7v6M1926.3 735.3v6M1921.3 745.8v2M1727.1 747.7v12M1897.7 729.4v0M1960.6 742.1v2M1803.2 751.4v2M1777.5 764.3v0M1918 729.2v12M1895 751.2v2M1718.6 753.7v12M1810.2 751.2v0M1786.3 751.2v4M1899 729.4v2M1757 749.8v6M1746.8 772.3v0M1961.7 753.5v0M1826.1 749.2v0M1813.5 753.3v0M1941.6 745.9v0M1937.7 754.9v0M1903.3 725.1v12M1823.5 745.4v6M1805.5 767.6v0M1743.2 774.9v2M1864.7 750.2v0M1790.5 762.6v0M1648.7 762.2v0M1819.4 775v0M1860.1 762v0M1942.1 730.3v4M1885.2 758.3v6M1847.3 747.1v0M1758.3 780.2v2M1713.3 748.1v0M1767.3 751.5v2M1698.8 757v2M1942.6 733v6M1739.1 751.2v0M1819 743.5v12M1774 751v2M1843.8 743.4v4M1833.2 746.2v4M1940.4 736.8v2M1946.1 730.6v0M1816 747.4v0M1896 732.8v0M1907.5 716.7v3M1923.3 679.2v0M1927.2 725.3v0M1935.4 724.7v3M1955.3 700.6v8M1968.7 724.1v0M1922.8 712.2v0M1907.2 733.7v0M1913.9 731.4v0M1897.9 623.4v8M1914.7 678.7v8M1954.3 719v5M1941.2 745.1v0M1983.3 774.6v3M1890.6 652.3v8M1975.2 733.2v8M1919.7 733v0M1902.4 719v0M1937.9 692.5v3M1930.8 683.9v0M1886.3 720v0M1925.4 705.5v0M1960.8 735.1v0M1983.9 709.4v0M1960.2 722.5v0M1916.1 716.4v5M1970.9 681.4v0M1955 752v0M1972.2 706v0M1906.9 743.2v0M1969 767.6v8M1983.4 722.7v0M1891.5 760.8v5M1888.4 740.1v0M1948.1 706.4v8M1959.4 701.1v0M1923.7 720.9v5M1977.7 795.8v0M1966.9 704.4v5M1979.1 680.1v3M1977.7 758.9v3M1971.6 746v0M1942.9 664.9v5M1912.6 790v3M1948 722v0M1970.4 710.5v5M1970.2 792.1v0M1917.6 750.1v0M1958.5 735.9v3M1936.4 656.4v8M1925.8 677.4v5M1929.5 689.7v0M1933.1 723.6v8M1906.9 748.9v0M1926.4 736.8v0M1979.3 729.8v0M1980.2 718.1v0M1931.1 772.2v3M1899.3 702.7v3M1960 697.5v8M1959.5 649.4v0M1946.2 698.2v8M1970.7 783v0M1966.2 715.4v0M1923.3 729.8v0M1933 728.3v8M1964.6 704.4v0M1915.1 781.6v0M1951.2 787.4v0M1955.1 728.4v0M1896.4 749v8M1904.4 698v0M1949.2 679.1v0M1896.9 739.6v0M1957.9 775.8v0M1923.2 731.2v3M1911.4 694.6v8M1894.5 701.6v0M1892.5 636.5v0M1912 701.6v0M1971.7 635.5v0M1972.5 744.2v0M1970.1 671.5v5M1976.4 709.9v8M1895.8 702.2v3M1912.6 713.8v0M1961.9 764.6v0M1909.9 701.9v5M1954.1 743.2v0M1897.5 668.2v0M1896.7 719.5v5M1887.2 711.3v3M1925.4 766v3M1955.3 691.7v5M1939.7 634.3v3M1931.5 734.2v0M1970.2 781.7v5M1952.5 681.5v5M1968.2 689.8v5M1900.1 719.8v5M1916.7 702.3v0M1902.8 657v5M1913.8 677.2v8M1979.8 720.1v0M1907 752.6v3M1942.5 749v0M1983.5 656.7v0M1904.3 749.1v0M1982.4 676.1v3M1913 705.1v8M1934.6 656.3v8M1963.8 673.1v0M1909.3 762.8v0M1916.6 703.2v5M1909.2 697.4v5M1939.5 678.9v5M1961.1 700.1v5M1893.1 729.1v0M1980.3 707.5v0M1952 765.1v8M1967.5 758.4v0M1966.3 714.2v3M1960.6 706.4v0M1890.6 750.5v8M1939.3 699.7v0M1930.1 733.1v0M1962.2 664.4v0M1963.6 719.3v5M1970.2 733.6v0M1912.5 673.9v8M1905.6 742.6v0M1932.8 756.8v0M1912.5 734.8v3M1894.7 698.7v0M1951.4 763.4v8M1942.3 729.5v5M1909.7 766.1v8M1972.8 738.1v0M1887.9 719.6v0M1901.5 796.7v0M1943.8 687.8v5M1965.3 717.6v5M1943.1 723.4v0M1938.5 712.4v0M1910.6 663.9v0M1949 710.2v3M1961.2 660v8M1959 744v0M1909.1 684.5v5M1891.4 785.8v8M1962.8 727.2v0M1970.4 685.8v0M1929.3 790.2v0M1944.7 790.6v0M1903.9 722.3v5M1960.8 691.3v8M1966 695.7v0M1950.3 695v0M1982 696.3v0M1931.4 722.3v0M1931.8 739.2v8M1911.7 760.4v5M1949.9 715.3v8M1969.2 711.7v8M1887.1 766.4v0M1958.5 705.7v5M1983.1 758v0M1971.2 698.5v5M1929 785.1v8M1916 763.1v0M1967.8 702.5v0M1977.3 707v3M1927.8 763.4v8M1944.4 696.3v3M1965 784.4v8M1938.7 685v0M1908.7 764.8v0M1939.6 771.4v0M1912 780.9v0M1961 734.3v3M1971.4 678.6v5M1971.5 677.8v0M1921.3 689.5v3M1938.8 748.9v0M1979.8 725.8v0M1964.9 712.5v3M1924.7 660.3v0M1888.6 689.8v3M1939.4 757v5M1946.3 702.8v5M1927.1 662.9v5M1909.9 682.3v8M1968 725.7v0M1896.8 697.6v0M1980.6 748.5v8M1960.2 671.9v0M1887 696.9v0M1949.1 707.1v5M1939.6 740.5v5M1974.8 690.7v0M1948 781v0M1960 729.7v8M1971.6 655.5v0M1950.5 778.3v8M1984.3 753.5v0M1952.9 702.8v0M1967.4 734.2v0M1935.4 708.8v0M1895.3 722.2v5M1903.9 704.8v5M1905.4 764.8v0M1930 794.6v0M1940.8 717.6v0M1919.3 703.4v3M1960.9 658.6v0M1931.2 695.5v0M1963.7 714.3v0M1921.5 734.6v0M1922.4 747.1v0M1913.8 730.9v3M1975.8 751.5v5M1919.3 771.5v8M1933.9 799.1v0M1938.1 764.6v0M1915.1 710.6v5M1950.5 662.6v0M1942.7 762v0M1935.1 739.7v0M1972.5 704.1v0M1947.7 684.1v8M1914 735.6v8M1928.9 775.8v0M1916.5 745.5v0M1928.4 682.4v0M1938.1 689.8v0M1970 774.1v0M1938 688.4v0M1950.4 696.5v3M1976.9 783.4v8M1909.4 671.6v0M1886.6 772.5v8M1933 696.3v8M1968.8 722v0M1968 678.8v8M1959.8 696.7v3M1965.1 685.8v8M1908.4 769.4v0M1889.6 696v5M1932.5 749.9v0M1953.3 728.8v8M1956.8 749.8v0M1889.5 649.8v8M1898.3 735.3v0M1948.7 689.2v0M1976.1 761.2v0M1953.3 712.1v0M1909 740.4v3M1962.4 705.7v3M1938.5 783.1v5M1940.1 690.1v0M1982.6 694v0M1909.8 713.3v0M1930.9 791.7v3M1925 669.2v0M1886.6 784.2v8M1924.4 748.5v8M1942.6 736.9v3M1975.7 720.6v0M1936.7 683.4v5M1934.9 752.2v0M1887.3 708.5v0M1915.3 742.6v5M1943 716.4v3M1954.8 680.2v3M1908.4 789.6v0M1981.5 754.3v3M1906.3 697.3v0M1974.8 761.5v5M1941.6 711.1v8M1904.2 787.2v3M1893.5 677.1v8M1914.8 687.9v0M1910.8 749.3v0M1931.1 654.6v3M1889.5 631.8v8M1976.7 709.6v0M1938.5 719.6v0M1934 680.9v3M1982.1 692.6v3M1929.6 703.4v8M1889.4 691.9v0M1974.9 748v0M1964.2 733.5v0M1947.9 680.6v0M1923.2 669.6v0M1942.3 738.2v3M1905.9 690.8v3M1937.1 687v3M1952.3 682.4v0M1911.8 678.4v0" stroke="#b0c4de" stroke-width="6.6" stroke-linecap="round" fill="none"/>
<path d="M1397.9 148.7h0M1311.4 185.1h0M1289.1 216.4h0M1390.6 212.1h0M1522.2 231.4h0M1263.4 243.4h0M1344.8 248.5h0M1339.2 256.2h0M1264.3 262.7h0M1287 294.8h0M1266.4 292.2h0M1342.2 316.2h0M1364.9 326.5h0M1316.9 341.1h0M1327.2 347.5h0M1352.1 341.9h0M1337.9 362.9h0M1349.9 359.9h0M1362.8 355.6h0M1395.8 378.4h0M1435.6 365.1h0M1494.3 365.1h0M1439.9 384.8h0M1472 383.5h0M1494.3 392.1h0M1524.7 392.1h0M1537.6 384.8h0M1570.6 406.2h0M1568 407.1h0M1623.7 413.5h0M1661.4 450h0M1793.8 453.4h0M1606.6 465h0M1640.8 465h0M1696.5 467.1h0M1742.4 482.1h0M1912.9 516.4h0M1912.9 539.9h0M1938.6 574.2h0M1833.6 537.8h0M1964.3 623.5h0M1919.3 623.5h0M1897.9 591.3h0M1235.1 548h0M1352.9 703.9h0M1750.1 795.6h0M1750.1 808.5h0M1750.1 819.2h0M1790.8 783.6h0M1831.5 791.3h0M1861.5 817.1h0M1874.3 806.3h0M1887.2 817.1h0M1887.2 832h0M1915 816.2h0M1925.8 810.6h0M1953.6 791.3h0M1966.5 791.3h0" stroke="#b0c4de" stroke-width="6.6" stroke-linecap="round" fill="none"/>
<path d="M1237 324L1252 322L1258 331L1264 339L1275 348L1286 356L1307 374L1328 391L1350 417L1371 451L1388 481L1406 511L1410 537L1410 580L1406 614L1393 623L1371 619L1350 636L1328 623L1307 610L1277 614L1256 636L1249 623L1247 580L1243 520L1238.6 451L1235 400L1233 387L1233 345 z" fill="#4682b4"/>
<path d="M1363.6 442.2h0M1304.5 375.4h0M1300.8 366.7h0M1311.1 379.7h0M1331 398h0M1317.4 385.6h0M1306.1 372.2h0M1390 481.5h0M1268.4 339.5h0M1271.9 348.6h0M1320.6 383.6h0M1409.6 529.7h0M1254.7 328.6h0M1386.1 481.6h0M1259.9 334.7h0M1329 396.7h0M1384.9 479h0M1336.3 404.4h0M1405.4 521.5h0M1334.9 402.4h0M1301.5 370.2h0M1360.1 438h0M1409.4 516.8h0M1351.4 416.7h0M1404.6 511.5h0M1297.3 366.5h0M1405.9 529.2h0M1320.8 386.3h0M1302.9 374.4h0M1361.1 431.7h0M1389.4 477.7h0M1288.1 357.2h0M1390 481.6h0M1322.2 386.6h0M1407.1 530.3h0M1379.6 470.1h0M1404.4 513.8h0M1346.7 417.2h0M1289.3 361h0M1389.7 488.6h0M1315.4 382.9h0M1326.1 388.6h0M1337.9 406.3h0M1374.2 451h0M1402.2 507.8h0M1381.7 473.2h0M1312.6 373.7h0M1346.8 416.9h0M1402.6 510h0M1400.5 501.5h0M1288.6 362h0M1314.2 383.5h0M1404.9 522.8h0M1260 333.5h0M1355.8 432h0M1343.7 413.8h0M1289.2 357.4h0M1349.9 420.7h0M1403.1 508.3h0M1406.2 521.6h0M1395.4 498.5h0M1259.1 328.3h0M1265.6 343.1h0M1292.2 362.7h0M1334 400.2h0M1344.4 407.9h0M1267 342.7h0M1323.8 386.7h0M1365.1 442.5h0M1404.9 521.4h0M1285 356.7h0M1282.6 356.8h0M1399.4 505.5h0M1283.5 353.8h0M1294.9 364.4h0M1390.6 491.2h0M1384.3 478.9h0M1331.4 397.4h0M1265.2 343.5h0M1252.4 327.9h0M1343.3 412.4h0M1408.1 533.7h0M1391.1 490.7h0M1355.7 431.1h0M1261.5 329.5h0M1410.9 525.1h0M1312.8 373.4h0M1404.5 513.8h0M1405.5 525.8h0M1260.3 333.5h0M1359 434.6h0M1260.5 336.6h0M1355.9 424h0M1352.8 426.1h0M1390 484.5h0M1374.5 460.3h0M1387.1 475h0M1294.8 367.1h0M1320.5 388.5h0M1411.3 529.7h0M1357 429h0M1268.8 340.6h0M1400.7 503.8h0M1405.2 522.4h0M1371.7 442.8h0M1339 401.7h0M1283.8 355.2h0M1407.1 518.6h0M1408.9 533.2h0M1271.9 349h0M1314.9 384.2h0M1347.8 416.1h0M1285.7 359.4h0M1404.1 511.4h0M1325.4 392h0M1359.6 434.2h0M1384.4 466.6h0M1263.5 341.8h0M1351.8 424h0M1383.8 479.4h0M1349.3 419.4h0M1347.7 406.2h0M1303.6 369.4h0M1399.3 500.3h0M1281.6 355.9h0M1392.8 494.6h0M1355.5 430.7h0M1381.5 466.2h0M1403.7 511.8h0M1358 435.2h0M1291.3 364.3h0M1369 452.6h0M1365.1 445.6h0M1402.6 503.4h0M1352.9 418.7h0M1319 385.7h0M1346.3 416.2h0M1327 392.9h0M1306 376h0M1341.8 411.3h0M1354.6 428.6h0M1275 349.6h0M1374.6 459.1h0M1251.1 323.7h0M1382.2 476h0M1310.2 379.3h0M1322.3 384.6h0M1338 406.2h0M1400.7 506.8h0M1400.9 501.8h0M1328.6 391.4h0M1353.1 423.7h0M1394.1 496.6h0M1349.4 417.9h0M1362 441h0M1402.9 510.5h0M1366.2 443.3h0M1389.1 484h0M1259.4 323.9h0M1343.8 413.5h0M1298.8 368.1h0M1375.7 462.2h0M1289.6 363h0M1385.3 480.1h0M1260.9 339.3h0M1405.4 525.1h0M1304.7 373.4h0M1268.7 340.7h0M1258.4 321.2h0M1400.7 501.5h0M1386.5 483.4h0M1318.2 386.5h0M1294.8 365.4h0M1371.1 454.5h0M1405.3 520.5h0M1373.7 456.5h0M1348.2 418.9h0M1276.2 351h0M1349.6 421.1h0M1380.4 472.2h0M1350.9 423.7h0M1254.4 325.8h0M1396.8 495.9h0M1266.9 341.9h0M1284 357.2h0M1360.8 436.5h0M1382.8 469.7h0M1262.8 338.3h0M1345.3 412h0M1270.3 347.4h0M1306.8 376.1h0M1347.8 418.6h0M1259 332.7h0M1405.1 516h0M1339.4 408.4h0M1299.1 370.6h0M1405 521.1h0M1378 468.1h0M1369.6 454.5h0M1374.3 445.6h0M1367.9 447.6h0M1326.4 393.7h0M1393.9 491.9h0M1320.7 382.8h0M1295.7 367.4h0M1337.5 403.5h0M1346.2 413.6h0M1334.3 400.8h0M1414.2 531.1h0M1293.9 364.9h0M1303.6 369.8h0M1359.1 437.4h0M1370.9 447.3h0M1257.6 327.3h0M1264.7 335h0M1390.4 487.4h0M1403.3 512.7h0M1399.9 506.1h0M1339.9 406.3h0M1379.6 472.1h0M1342.6 411.1h0M1277.6 353.5h0M1379.4 470.8h0M1280.4 353.1h0M1275.2 349.1h0M1401.8 501.6h0M1366.1 448.5h0M1411.3 524h0M1405.6 527.5h0M1314.4 383.6h0M1392 490.6h0M1312.8 381.5h0M1408.1 523.8h0M1313.1 381.9h0M1258 328.5h0M1338.7 407.5h0M1355.7 426h0M1360.2 437h0M1382.2 465.9h0M1373.3 460.6h0M1386.2 483.5h0M1372.5 449h0M1303.7 368.6h0M1402.3 509.4h0M1263.7 341h0M1251.6 325.2h0M1401.2 505.3h0M1406.1 510.1h0M1411.5 529.3h0M1357.2 429h0M1404.3 508.4h0M1364.3 443.4h0M1348.3 417.4h0M1350.8 414.1h0M1336.7 401.8h0M1253.2 327.6h0M1402.6 508.5h0M1265.6 339.5h0M1373.3 457.4h0M1372.1 453.3h0M1314.1 365.2h0M1314.2 369h0M1315.4 372.8h0M1314.8 376.6h0M1315.1 380.4h0M1315 384.2h0M1256.2 307.5h0M1257.1 311h0M1256.9 314.6h0M1256.4 318.2h0M1256.7 321.8h0M1256.7 325.3h0M1256.7 328.9h0M1256.6 332.5h0M1364.7 422.8h0M1364.5 426.5h0M1364.4 430.2h0M1364.5 434h0M1365.2 437.7h0M1365.7 441.4h0M1365.1 445.1h0M1353.1 417.3h0M1353.7 422.2h0M1354 427h0M1263.5 332.7h0M1264.6 337.9h0M1263.4 343h0M1376.6 438.8h0M1375.7 442.5h0M1376.7 446.1h0M1375.7 449.8h0M1376.7 453.5h0M1376.4 457.2h0M1376.6 460.8h0M1376.8 464.5h0M1325.3 364.8h0M1325.6 368.8h0M1325.3 372.9h0M1325.9 376.9h0M1326 381h0M1326.2 385h0M1324.9 389.1h0M1326.1 393.1h0M1378.6 459.8h0M1379.8 464.5h0M1379 469.2h0M1410 514h0M1409.3 517.8h0M1409.7 521.5h0M1410 525.2h0M1409.5 529h0M1409.6 532.7h0M1409.8 536.5h0M1302 353.6h0M1301.1 357.6h0M1300.8 361.5h0M1301.2 365.4h0M1301.1 369.3h0M1301.2 373.2h0M1281.4 329.9h0M1281.2 333.8h0M1281.5 337.7h0M1281.9 341.5h0M1282.5 345.4h0M1282.7 349.3h0M1282.5 353.1h0M1281.2 357h0M1299.4 355.9h0M1300.1 359.9h0M1299.8 363.9h0M1299.3 368h0M1300.6 372h0M1315.8 362.2h0M1316.3 366h0M1316.4 369.9h0M1315.4 373.7h0M1315.7 377.6h0M1316.8 381.5h0M1316.4 385.3h0M1317.9 378.8h0M1318.1 382.8h0M1318.5 386.8h0M1335.4 393.1h0M1335.3 398h0M1335.5 403h0M1369.4 435h0M1370.3 438.7h0M1370.6 442.4h0M1369.6 446.2h0M1370 449.9h0M1370.5 453.6h0M1292.6 352.5h0M1293 356.9h0M1292.3 361.3h0M1293.2 365.6h0M1395 483.6h0M1395.6 488h0M1395.7 492.3h0M1395 496.7h0M1333.7 384.1h0M1332.2 388.2h0M1332.6 392.4h0M1333.6 396.6h0M1332.6 400.8h0M1359.6 423.9h0M1359 428h0M1359.5 432.1h0M1359.6 436.2h0M1313.6 361.2h0M1313.6 365h0M1313.9 368.8h0M1314 372.6h0M1314.2 376.4h0M1313.6 380.1h0M1313.6 383.9h0M1332.1 375.3h0M1333.2 378.9h0M1332.7 382.5h0M1333.5 386.2h0M1333 389.8h0M1332 393.4h0M1333.1 397h0M1333.4 400.7h0M1354.4 407.5h0M1354.9 411.6h0M1354.8 415.7h0M1354.5 419.8h0M1354.6 423.9h0M1354.2 428h0M1321.3 364h0M1321.1 367.6h0M1320.6 371.3h0M1321 374.9h0M1320.9 378.6h0M1321.1 382.3h0M1321 385.9h0M1321 389.6h0M1268.7 334.3h0M1268.6 338.4h0M1268.4 342.5h0M1267.9 346.6h0M1332.8 379.3h0M1333.6 382.9h0M1333.3 386.6h0M1333.4 390.2h0M1333.4 393.9h0M1333.2 397.5h0M1333.8 401.2h0M1294.6 343.2h0M1294.7 347.3h0M1294.9 351.4h0M1295.1 355.5h0M1294.3 359.6h0M1295.1 363.6h0M1294.2 367.7h0M1343.7 394.9h0M1343.2 399.3h0M1343 403.8h0M1342.4 408.3h0M1343.4 412.8h0M1375.6 439.4h0M1376.3 443.5h0M1375.8 447.7h0M1376.7 451.8h0M1376.3 455.9h0M1376.6 460h0M1376.6 464.2h0M1290.2 345.8h0M1289.2 350.2h0M1290.2 354.5h0M1289.5 358.8h0M1289.4 363.1h0M1389.3 460h0M1388.7 463.9h0M1390.1 467.8h0M1389.3 471.6h0M1389.9 475.5h0M1388.9 479.4h0M1389.1 483.2h0M1389.5 487.1h0M1302.3 357h0M1302.5 361.3h0M1302.3 365.6h0M1303.2 369.8h0M1302.6 374.1h0M1275.9 333.8h0M1277.1 337.6h0M1276.8 341.5h0M1276.8 345.4h0M1276.2 349.2h0M1276.2 353.1h0M1322.9 361.2h0M1322.5 364.8h0M1321.9 368.5h0M1322.7 372.1h0M1321.5 375.8h0M1321.8 379.4h0M1322.3 383h0M1322.7 386.7h0M1322 390.3h0M1407.1 613h0M1408.5 568.7h0M1410.5 547.6h0M1408.5 542.4h0M1411.4 543.2h0M1408.1 580.1h0M1407.5 577.9h0M1408.9 603h0M1406.8 586.8h0M1407.6 542.7h0M1407.6 551.2h0M1403.7 610.6h0M1412.9 552.4h0M1409.9 588.5h0M1408 571.5h0M1404.5 606.8h0M1410 561.1h0M1408.4 549.8h0M1407.6 568h0M1409.9 580.3h0M1407 567.4h0M1408.2 564.9h0M1407.5 575.7h0M1409 572.6h0M1408.4 564.7h0M1406.9 588.2h0M1409.7 537.8h0M1407.9 565.2h0M1405.1 609.1h0M1408.1 572.1h0M1407.1 556.2h0M1408.7 566.3h0M1407 573h0M1408.3 569.5h0M1406.2 590.8h0M1405.4 604.3h0M1408.8 549.3h0M1409.1 563.5h0M1409.6 571.3h0M1406.6 583h0M1408.2 569h0M1405 599.2h0M1412.6 549.5h0M1411.3 560.4h0M1406.1 595.9h0M1407.8 568h0M1405.7 605.5h0M1407.8 539.1h0M1407.3 584.1h0M1407.1 576h0M1412.2 565.3h0M1407.4 559.6h0M1410.3 548h0M1407.1 551.6h0M1407.8 550.8h0M1410.3 560.8h0M1408 596h0M1409.7 579.6h0M1405.9 610h0M1405.6 608.8h0M1293.2 611.4h0M1393.9 623.5h0M1260.8 634.2h0M1265.3 623.4h0M1300 608.5h0M1387.6 622.2h0M1359.2 627.6h0M1281 610.7h0M1332.5 625.2h0M1297.3 611.9h0M1380.6 626.8h0M1291.6 618.3h0M1264.9 622.5h0M1263.6 624.1h0M1359.6 625.3h0M1302.8 607.9h0M1376.4 623.6h0M1372.6 616.6h0M1340 626.9h0M1266 623.3h0M1393 620.6h0M1357.3 627.4h0M1343.2 629.2h0M1358.1 628.9h0M1298.9 609.5h0M1263.4 639.6h0M1323.1 620.6h0M1299.1 611.1h0M1248.8 630.2h0M1249.1 626.5h0M1330 621.2h0M1350.5 632.8h0M1402.7 613.4h0M1254.5 634.2h0M1291.9 609.3h0M1400 618.3h0M1292.3 615.4h0M1313.5 611.1h0M1366.5 620.1h0M1326.1 619.1h0M1249.7 623h0M1333.6 624.5h0M1375.8 618.6h0M1258.9 632.8h0M1303.7 607.8h0M1279 611.2h0M1266.9 621.9h0M1254.5 631.1h0M1250.5 623h0M1314.3 617.3h0M1301.3 608.9h0M1250.6 634.7h0M1255.4 630.2h0M1379.2 619.8h0M1381.2 618.5h0M1361.6 623.9h0M1271.8 616.6h0M1386.4 621.7h0M1272.3 620.4h0M1260 628.7h0M1404 613h0M1261.9 629.7h0M1390.7 619.9h0M1396.1 619h0M1380.6 620.1h0M1360.4 623.9h0M1377.5 617.5h0M1291.4 614.1h0M1262.5 626.7h0M1300 611.7h0M1345.3 631.4h0M1256.4 631.8h0M1373.5 618.2h0M1306.4 607.3h0M1255.6 629.1h0M1396.9 617.5h0M1366.6 619h0M1367.7 620h0M1281 613.7h0M1365 622.1h0M1356.4 627.4h0M1270.1 628.9h0M1350.6 633.9h0M1331.1 625.9h0M1395.8 619.5h0M1259.9 636.5h0M1312 613.9h0M1271.3 616.5h0M1348.9 634.6h0M1272.6 616.7h0M1328.7 621.8h0M1298.8 608.5h0M1378.5 618.2h0M1262.7 635.3h0M1399.1 619.3h0M1253.7 625.7h0M1322.9 623.3h0M1296.7 608.8h0M1254.3 626.6h0M1296.9 610.8h0M1361.3 633.1h0M1315.9 612.3h0M1403.5 616.1h0M1266.7 625.5h0M1343.4 631.6h0M1290.2 610h0M1356.3 627.7h0M1319 615h0M1268.5 630.8h0M1322.6 622.8h0M1278.1 613.6h0M1370.6 630.3h0M1382.8 620.7h0M1357.2 632.5h0M1317.3 614h0M1384.9 619.5h0M1282.1 615.5h0M1405.5 621.2h0M1251.8 625.7h0M1382.7 618.3h0M1278.1 614.7h0M1281 621.5h0M1291.8 613.2h0M1296.9 609.3h0M1305 607.4h0M1360.2 624.5h0M1392.2 620.4h0M1393.7 622h0M1257 630.8h0M1243 627h0M1364.1 621.8h0M1283.8 610.5h0M1375.6 619.6h0M1336.5 629.1h0M1344.4 629.5h0M1281.4 615.1h0M1256.1 633.8h0M1253.1 626.1h0M1385.1 624.3h0M1254.7 633.6h0M1255.3 632.8h0M1401.8 623.3h0M1352.2 630.7h0M1344.6 629.7h0M1368.1 617.6h0M1336 625h0M1355.4 628.9h0M1349.4 636.1h0M1289.6 612.5h0M1387.3 621.2h0M1308.7 613.5h0M1264 624.6h0M1317.2 613h0M1383 621.5h0M1400.2 615h0M1253.2 626.3h0M1339.1 632.3h0M1271.6 616.2h0M1279.1 611.9h0M1304.8 611.3h0M1301.3 607.9h0M1304.1 609.3h0M1280.9 614.7h0M1258.5 635h0M1372.3 622.5h0M1355.5 633.8h0M1346.9 631.2h0M1319.3 618.3h0M1376.5 623.2h0M1312 610.3h0M1265.6 622.5h0M1260.9 631.7h0M1351.2 631.6h0M1338.2 626.6h0M1345.8 630.1h0M1281.4 611h0M1254.7 631.3h0M1274.3 614.1h0M1331.1 623.6h0M1357.7 632.2h0M1401.7 614.7h0M1249 632.3h0M1255.5 633.8h0M1391.6 626.4h0M1250.8 638.2h0M1387.9 623.8h0M1317.3 615.2h0M1355 629.7h0M1324.6 621.9h0M1259.7 628.9h0M1394.2 619.7h0M1276.7 616.4h0M1311.8 616.4h0M1351 631.4h0M1291.8 612.4h0M1353.3 632.9h0M1263.6 624.8h0M1288 614.1h0M1367.1 624.8h0M1274.2 614.8h0M1304 609.8h0M1349.4 633.5h0M1285.1 612.8h0M1297.5 608.4h0M1401.8 613.8h0M1264.5 624.6h0M1326 618.3h0M1362.9 626.2h0M1253.6 630.4h0M1310.8 609.4h0M1397.3 619.6h0M1290.8 610h0M1319.8 615.1h0M1384.6 618.9h0M1255.9 632.1h0M1306.8 611.8h0M1390.1 625h0M1331.5 623.8h0M1259.1 628.7h0M1385.7 622.9h0M1270.3 616.4h0M1271.2 620.2h0M1271.4 623.9h0M1270.9 627.7h0M1326.4 618.3h0M1327.3 622.7h0M1327 627h0M1327 631.4h0M1388.8 618.2h0M1387.7 622.4h0M1388.4 626.6h0M1389.1 630.8h0M1300.7 606.8h0M1300.1 612.1h0M1300.2 617.4h0M1365.9 619.2h0M1366.6 624.6h0M1366.3 630h0M1354.7 628.7h0M1354.5 633.2h0M1353.4 637.6h0M1350.5 631.1h0M1350.4 634.7h0M1351.7 638.4h0M1350.8 642.1h0M1351.1 645.7h0M1288.6 608.5h0M1287.1 613h0M1287.9 617.4h0M1287.9 621.8h0M1388.2 618.1h0M1388.3 623.5h0M1387.9 628.9h0M1331.9 620.9h0M1331.7 625.1h0M1330.9 629.3h0M1331.9 633.5h0M1330.7 637.7h0M1403.1 611.7h0M1403.3 616.2h0M1404 620.7h0M1403.9 625.2h0M1392.7 618.9h0M1391.8 623.4h0M1393 627.9h0M1393 632.4h0M1393.4 618.7h0M1394 623.7h0M1393.4 628.8h0M1353.5 629.1h0M1354.4 634.2h0M1354.2 639.3h0M1391.9 618.9h0M1393.1 622.9h0M1392.9 626.9h0M1392.5 630.9h0M1393 634.9h0M1359.6 623.8h0M1360 628h0M1360 632.3h0M1360.5 636.5h0M1359.7 640.7h0M1244.7 501.6h0M1238.2 462.9h0M1250.2 597.1h0M1230.7 353h0M1250.3 596.3h0M1235.1 371.1h0M1247.2 540h0M1235.6 361.5h0M1241 446.4h0M1235.3 400.6h0M1240.9 471.1h0M1237.6 330.1h0M1237.5 409h0M1230.8 380.2h0M1235.8 382.9h0M1247 556.4h0M1250 584.9h0M1240.8 446.1h0M1243.9 486.5h0M1243 533.4h0M1249.1 567.8h0M1235.9 353.9h0M1246.8 532.5h0M1246.9 535.7h0M1234.8 365.5h0M1249.3 572.6h0M1245.2 510.4h0M1239.5 441.4h0M1242.2 460.9h0M1246.7 534.5h0M1245.5 517.4h0M1235.1 426.2h0M1245.9 524.1h0M1248.8 567.5h0M1242.4 494.6h0M1239.1 327.7h0M1234.8 388.1h0M1233.4 354.6h0M1249.4 590h0M1247.2 539.8h0M1235.2 353.7h0M1248.6 600.1h0M1235.8 423h0M1243.7 485.2h0M1235.2 383.7h0M1249.3 574h0M1236 345.5h0M1237.6 335.3h0M1241.8 498.5h0M1248.6 565.8h0M1237.7 404.9h0M1246.5 537.5h0M1243.1 479.7h0M1239.2 423.6h0M1235 404.1h0M1243.9 488.6h0M1244.5 502.2h0M1238.3 329.9h0M1248.3 572.9h0M1249.3 575.5h0M1250.1 582.1h0M1244.8 515.9h0M1235.6 379.8h0M1243.5 510.2h0M1240 433.8h0M1236.8 328.4h0M1235.5 348.4h0M1249.8 580.9h0M1235.3 396.5h0M1248.5 558.1h0M1233.6 382.7h0M1242.2 470.2h0M1238.6 422.3h0M1249 582.6h0M1244.4 519.9h0M1242.7 492.6h0M1235.8 379.1h0M1237.2 331.5h0M1247.7 550.2h0M1235.7 353.4h0M1243.1 475.4h0M1237.6 335.1h0M1239.6 426.4h0M1247.2 558.9h0M1248.4 566.8h0M1245.6 539.2h0M1245.7 558.8h0M1244.9 504.5h0M1245.4 510.8h0M1243.2 492.8h0M1249.9 593.9h0M1250.9 611.3h0M1235.7 361.3h0M1234.6 364.3h0M1250 613h0M1245.1 511h0M1247.4 559.9h0M1237.7 409.7h0M1237.4 399.4h0M1250.5 592.4h0M1240.1 435.8h0M1239.5 429.4h0M1241.3 447.4h0M1234.9 394.1h0M1238.3 405.1h0M1250.8 605.9h0M1249.7 585.8h0M1239.4 424.8h0M1237.1 440.6h0M1237.2 397.3h0M1241.4 457.7h0M1243.3 485.5h0M1236.8 339.6h0M1238.6 410.7h0M1235.4 360.8h0M1251.1 606.9h0M1246.7 566.6h0M1239.1 328.2h0M1242.8 478.7h0M1251.2 610.9h0M1236.1 436.9h0M1235.6 363.4h0M1239 415.5h0M1241.9 459.4h0M1237 415.8h0M1237.7 333.3h0M1248.4 561.7h0M1250.7 599.4h0M1239.6 428.4h0M1247.4 545.1h0M1245.8 544.7h0M1247.5 575h0M1238.8 411.5h0M1250.5 593.6h0M1246.8 570.5h0M1247.2 543.4h0M1242.8 486.1h0M1249.2 571h0M1244.8 506.4h0M1250 582h0M1245 519.9h0M1237.2 411.1h0M1235.8 360.3h0M1238.2 461.9h0M1241.2 474.9h0M1237.3 395.7h0M1235 376.5h0M1243.9 490.1h0M1239.8 448.1h0M1248.8 576h0M1235.5 328.8h0M1243.2 476.5h0M1251.1 611.3h0M1246.3 524.8h0M1241.5 451.9h0M1246.4 540.9h0M1248.1 555.9h0M1238.5 409.7h0M1251.2 616.1h0M1238 465.6h0M1243.3 487.8h0M1244.9 516.6h0M1239.9 434h0M1250.7 603.8h0M1251.6 619.7h0M1235.6 376.8h0M1248.3 565.3h0M1249.2 575.4h0M1239.2 428.7h0M1242.2 461.9h0M1237.7 335h0M1236.5 391.8h0M1249 573h0M1244.8 506.6h0M1251.2 616h0M1235.7 410.4h0M1241.8 462.6h0M1238.7 415.8h0M1250.7 613.4h0M1250.4 606.2h0M1239.5 462.2h0M1248.6 563.6h0M1237 405.3h0M1239.7 434.7h0M1234.9 356.7h0M1246.9 560.1h0M1246.5 530.1h0M1250.8 607.2h0M1251.2 607.9h0M1238.9 414.7h0M1239.2 444.3h0M1234.1 351.8h0M1248.2 570.2h0M1247.3 566.8h0M1235.5 346.5h0M1237.6 407h0M1235.9 367.6h0M1238 407.4h0M1242.9 486.5h0M1236.8 398h0M1243.2 165.9h0M1246.7 313.4h0M1238.6 307.7h0M1242.1 138.7h0M1241.2 186.5h0M1241.9 145.5h0M1246.3 288.1h0M1246 219.2h0M1239.6 191.3h0M1245.6 295.7h0M1242.1 321.5h0M1240.4 279.1h0M1240.8 164.1h0M1245.5 231.7h0M1247.4 326.2h0M1238.2 315.8h0M1238.8 316.5h0M1239.4 213h0M1239.6 262.8h0M1244.5 158.6h0M1244.5 245.4h0M1243.2 181.3h0M1238.1 264.6h0M1238.3 265.4h0M1239.7 144.5h0M1240.6 139h0M1241.6 299.3h0M1240.4 192.1h0M1240.6 171.4h0M1247.9 292.2h0M1238.8 251.7h0M1242.2 177.6h0M1243.8 208.1h0M1241.2 228.5h0M1243.4 223h0M1242.2 160.9h0M1245.3 211.4h0M1245.3 314h0M1240.7 163.4h0M1244.5 284.1h0M1244.9 251.4h0M1240.5 157.8h0M1242.7 165.6h0M1245.3 203.8h0M1240.8 175.3h0M1242.6 143.9h0M1245.8 246.7h0M1239.9 169.4h0M1243 312.8h0M1239.2 220.3h0M1243.9 164.4h0M1243.7 181.3h0M1246.1 249.6h0M1241.7 199.5h0M1240 145h0M1245.1 206.3h0M1242.2 205h0M1245 183.3h0M1247 273.2h0M1245.7 203.5h0M1247.1 266.8h0M1244 247.7h0M1243.8 237.3h0M1246.6 260.9h0M1240.5 280.4h0M1243.6 278.4h0M1240.2 319.3h0M1240 189h0M1241.1 264.1h0M1240.8 330h0M1239.4 312.7h0M1240.6 141.8h0M1240.7 228h0M1238.2 229.5h0M1239.7 150h0M1238.4 233.1h0M1239 292.8h0M1241.9 188.1h0M1244.9 318h0M1244.7 286.2h0M1241.9 275.7h0M1242 169.3h0M1238.1 263.5h0M1243.8 140.2h0M1241.5 181.1h0M1237.4 329.1h0M1248.4 323.9h0M1238.9 158.5h0M1240.4 212.1h0M1243.9 274.9h0M1239.1 196.7h0M1237.5 304.3h0M1240.3 253.8h0M1245.5 218.4h0M1243.2 153h0M1243.9 171.9h0M1240.8 231.3h0M1247.4 312.1h0M1244.8 261.9h0M1238.9 150.8h0M1240.2 217.1h0M1240.3 215.4h0M1242.5 233.3h0M1241.2 300.4h0M1241.4 266.7h0M1238.8 189.8h0M1244 256.4h0M1245.4 192.8h0M1238.9 284.2h0M1242.7 174.6h0M1238.4 209.2h0M1243.1 141.2h0M1241.5 221.9h0M1241.3 213.5h0M1242.2 263.7h0M1238.2 231h0M1244.8 300.4h0M1245 219.6h0M1238 258.1h0M1242.3 133.2h0M1242.5 171.1h0M1240.7 150.3h0M1244.8 174.5h0M1243.6 149.6h0M1241.9 171h0M1244.8 284.9h0M1245.5 320.1h0M1246.3 307.9h0M1241.6 169.7h0M1243.7 268.6h0M1238.3 273.4h0M1238.2 320.6h0M1238.6 322.1h0M1241.6 226.5h0M1243.2 275.3h0M1242.5 145.5h0M1240.9 149h0M1239.3 315.2h0M1242.7 297.8h0M1239 279.3h0M1238.2 264.6h0M1242.6 182.3h0M1245.4 202.8h0M1244.4 162.7h0M1245.6 230.3h0M1242.3 218.1h0M1243.2 140.4h0M1243.8 188.2h0M1242.2 162h0M1237.9 296.6h0M1240.1 312.8h0M1239.8 219.5h0M1243.4 271.9h0M1245.3 285.4h0M1241.7 216.4h0M1242.3 245.8h0M1245.1 240.8h0M1243 301h0M1241.2 206.9h0M1242.5 141.5h0M1240.9 223.9h0M1243.1 150.2h0M1239.6 222h0M1243.5 181.4h0M1240.9 145.2h0M1241.7 169.8h0M1243.4 140.7h0M1239.2 187.7h0M1241.9 182.2h0M1241.8 318.7h0M1242.8 326.5h0M1245.9 231.3h0M1244.8 262.7h0M1239.3 157.1h0M1242.2 234.9h0M1245.2 325h0M1241.9 222.9h0M1243.9 259.1h0M1239.2 171.2h0M1243.7 149h0M1238.9 293.5h0M1245.2 212.4h0M1245.6 196.9h0M1248 329.7h0M1238.9 212.5h0M1244.1 147.1h0M1245.3 206.1h0M1245.7 199.5h0M1239.9 181.5h0M1244.1 254.8h0M1244.5 243.7h0M1238.6 247.1h0M1235.1 241.7h0M1237.2 247.6h0M1237 245.4h0M1243 241.9h0M1246.6 246.2h0M1236.6 238.1h0M1245.3 245.2h0M1236.3 247.8h0M1245.7 238.8h0M1245.6 247.9h0M1241.6 240.7h0M1243 243.8h0M1237.2 247.5h0M1243.5 245h0M1243 244.3h0M1242.4 242.5h0M1244.6 245.5h0M1237.2 243.7h0M1245.2 242.6h0M1246.7 246.2h0M1242.3 245.2h0M1240.7 245.6h0M1245.2 246.5h0M1241.8 247.8h0M1245.8 298.9h0M1242.1 303.2h0M1235.4 304h0M1235.4 302h0M1243.3 302.8h0M1238.6 302.6h0M1235.7 297.4h0M1235.7 303.5h0M1236.4 298.8h0M1239 297h0M1244.6 299.9h0M1244.3 297h0M1243.2 295h0M1243.3 301h0M1236.8 303h0M1240.6 304.1h0M1238.6 304.3h0M1240.8 300.3h0M1236.6 298.3h0M1246.9 300.9h0M1242.6 295.6h0M1243 298.5h0M1434.8 620.7h0M1430.8 568.9h0M1440 612.4h0M1435.4 565.3h0M1427.1 568.4h0M1436.7 547.4h0M1421.4 537.5h0M1421.9 542.9h0M1435.2 584.1h0M1436.6 546.7h0M1438.9 557h0M1440 606.1h0M1428.4 568.8h0M1424.2 596.5h0M1422.5 603.3h0M1437.4 589.8h0M1424.2 619.8h0M1433.2 591.4h0M1429.3 582.6h0M1423.3 620.2h0M1424.6 604.3h0M1427.3 615.3h0M1433.1 596.2h0M1435 607.3h0M1425.3 593.6h0M1430.1 606.5h0M1434.3 560.6h0M1423.6 555.5h0M1432.3 561.4h0M1429.9 555.1h0M1427.9 555.7h0M1431.3 558.7h0M1437.5 608.2h0M1429.2 622.7h0M1432.7 599h0M1436.6 619.4h0M1429.9 540.1h0M1427.4 555.3h0M1438.1 599.7h0M1436.9 549.3h0M1435.1 600.5h0M1431.5 544.4h0M1429.9 562.9h0M1430.3 569.8h0M1427.1 611.9h0M1423.2 553.4h0M1434.5 586.6h0M1423.9 601h0M1424.2 588.6h0M1436.2 585.7h0M1440 591.1h0M1432.1 596.7h0M1436.8 569.3h0M1427.5 588.3h0M1429.9 617h0M1421.1 555.5h0M1435.2 590.5h0M1433.1 575.7h0M1437.2 595.4h0M1426.1 537.8h0M1466.5 374.9h0M1466.5 399.3h0M1504.2 430.6h0M1505.5 431.9h0M1454.9 662.8h0M1537.6 679.1h0M1251.4 643.5h0M1420.6 525.7h0M1461.3 533.4h0M1476.3 534.3h0M1477.6 554.8h0M1661.4 682.1h0M1661.4 688.5h0M1681.5 686.4h0M1772.8 630.7h0M1772.8 656.4h0M1772.8 662.8h0M1772.8 671.4h0M1851.6 701.4h0M1851.6 707.8h0M1851.6 712.1h0M1305 308.5V351.4M1358.5 377.1V419.9M1374.8 407.1V445.6M1390.6 441.3V471.3M1429.2 434.9V471.3M1456.2 398.5V432.8M1444.2 454.2V484.2M1417.6 475.6V505.6M1448.5 488.5V514.2M1459.2 475.6V505.6M1476.3 497V527M1422.8 534.3V628.5M1424.3 538.6V622.1M1435.6 564.3V628.5M1437.1 568.6V622.1M1457.1 555.7V602.8M1458.6 560V596.4M1446.3 538.6V581.4M1447.8 542.8V575M1506.3 585.7V662.8M1507.8 590V656.4M1510.6 671.4V709.9M1512.1 675.7V703.5M1487 590V611.4M1488.5 594.3V605M1397.1 607.1V654.2M1398.6 611.4V647.8M1262.1 641.4V662.8M1263.6 645.7V656.4" stroke="#4682b4" stroke-width="6.6" stroke-linecap="round" fill="none"/>
<path d="M1241 171h0M1240 176h0M1242 166h0M1237 271h0M1238 266h0M1238.5 228h0M1237 222h0M1247 305h0M1250 312h0" stroke="#b0c4de" stroke-width="6.6" stroke-linecap="round" fill="none"/>
<circle cx="1466.3" cy="547.5" r="6" fill="#000"/>
</g>
<rect x="1157.5" y="127" width="823.5" height="788" fill="none" stroke="#7f7f7f" stroke-width="2.2"/>
<path d="M1235.5 915v9M1384.6 915v9M1533.7 915v9M1682.8 915v9M1831.9 915v9M1981 915v9M1157.5 915.1h-9M1157.5 783.8h-9M1157.5 652.4h-9M1157.5 521h-9M1157.5 389.7h-9M1157.5 258.4h-9M1157.5 127h-9" stroke="#555" stroke-width="2" fill="none"/>
<g font-family="'DejaVu Sans', sans-serif" font-size="21.3" fill="#2a2a2a">
<g letter-spacing="-2.2">
<text x="1236.6" y="946.5" text-anchor="middle">0</text>
<text x="1385.7" y="946.5" text-anchor="middle">200</text>
<text x="1534.8" y="946.5" text-anchor="middle">400</text>
<text x="1683.9" y="946.5" text-anchor="middle">600</text>
<text x="1833" y="946.5" text-anchor="middle">800</text>
<text x="1982.1" y="946.5" text-anchor="middle">1000</text>
<text x="1140" y="923.1" text-anchor="end">−20</text>
<text x="1140" y="791.8" text-anchor="end">−15</text>
<text x="1140" y="660.4" text-anchor="end">−10</text>
<text x="1140" y="529" text-anchor="end">−5</text>
<text x="1140" y="397.7" text-anchor="end">0</text>
<text x="1140" y="266.4" text-anchor="end">5</text>
<text x="1140" y="135" text-anchor="end">10</text>
</g>
<text x="1464.5" y="974.7" font-size="19.5" textLength="209" lengthAdjust="spacingAndGlyphs">Number of residues</text>
<text transform="translate(1080.5 525) rotate(-90)" text-anchor="middle" font-size="19">Z-score</text>
<rect x="1838.5" y="138.5" width="133" height="69" rx="4" fill="#fff" fill-opacity="0.8" stroke="#d8d8d8" stroke-width="1.6"/>
<rect x="1843.5" y="146" width="50" height="20" fill="#b0c4de"/>
<rect x="1843.5" y="177" width="50" height="21" fill="#4682b4"/>
<text x="1907" y="161.5" font-size="20.5" letter-spacing="-0.6">X-ray</text>
<text x="1907" y="193.5" font-size="20.5" letter-spacing="-0.6">NMR</text>
</g>
</g>
</svg>
</body></html>
